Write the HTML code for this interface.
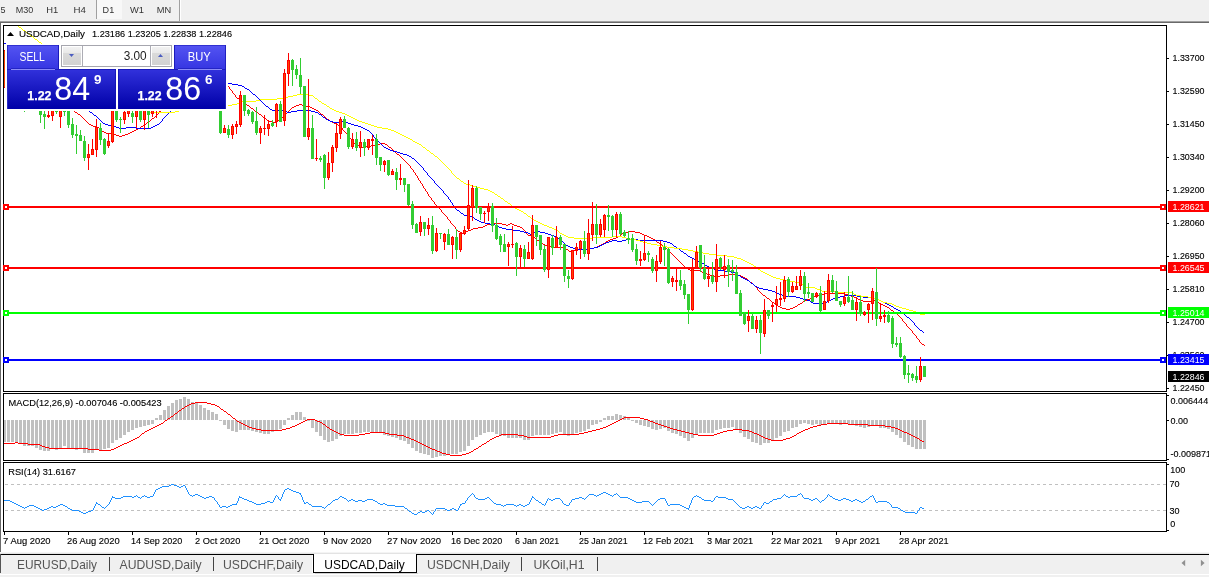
<!DOCTYPE html><html><head><meta charset="utf-8"><title>USDCAD,Daily</title>
<style>html,body{margin:0;padding:0;background:#fff;overflow:hidden}svg{display:block}text{font-family:"Liberation Sans",sans-serif}.t{stroke:#000;stroke-width:.12px}</style></head><body>
<svg width="1209" height="577" viewBox="0 0 1209 577">
<defs>
<linearGradient id="gbtn" x1="0" y1="0" x2="0" y2="1"><stop offset="0" stop-color="#5454f2"/><stop offset="1" stop-color="#3636e2"/></linearGradient>
<linearGradient id="gpan" x1="0" y1="0" x2="0" y2="1"><stop offset="0" stop-color="#3232dc"/><stop offset="0.75" stop-color="#0c0cb4"/><stop offset="1" stop-color="#0000a8"/></linearGradient>
<linearGradient id="gsp" x1="0" y1="0" x2="0" y2="1"><stop offset="0" stop-color="#f2f2f2"/><stop offset="0.36" stop-color="#e8e8e8"/><stop offset="0.36" stop-color="#dadada"/><stop offset="1" stop-color="#d2d2d2"/></linearGradient>
<clipPath id="cm"><rect x="4" y="26" width="1162" height="365"/></clipPath>
<clipPath id="cd"><rect x="4" y="394" width="1162" height="66"/></clipPath>
<clipPath id="cr"><rect x="4" y="463" width="1162" height="68"/></clipPath>
</defs>
<rect width="1209" height="577" fill="#fff"/>
<rect x="0" y="0" width="1209" height="21" fill="#f0f0f0"/>
<rect x="0" y="21" width="1209" height="1" fill="#a0a0a0"/><rect x="0" y="22" width="1209" height="1" fill="#696969"/>
<rect x="97" y="0" width="25" height="19" fill="#f8f8f8"/>
<rect x="96" y="0" width="1" height="19" fill="#a0a0a0"/><rect x="179" y="0" width="1" height="21" fill="#a0a0a0"/><rect x="180" y="0" width="1" height="21" fill="#fff"/>
<text x="0.5" y="13" font-size="9.6" fill="#333" textLength="5" lengthAdjust="spacingAndGlyphs">5</text>
<text x="15.7" y="13" font-size="9.6" fill="#333" textLength="17.5" lengthAdjust="spacingAndGlyphs">M30</text>
<text x="46.3" y="13" font-size="9.6" fill="#333" textLength="12" lengthAdjust="spacingAndGlyphs">H1</text>
<text x="73.6" y="13" font-size="9.6" fill="#333" textLength="12.4" lengthAdjust="spacingAndGlyphs">H4</text>
<text x="102.6" y="13" font-size="9.6" fill="#333" textLength="11.6" lengthAdjust="spacingAndGlyphs">D1</text>
<text x="130" y="13" font-size="9.6" fill="#333" textLength="14" lengthAdjust="spacingAndGlyphs">W1</text>
<text x="156.8" y="13" font-size="9.6" fill="#333" textLength="14.4" lengthAdjust="spacingAndGlyphs">MN</text>
<rect x="0" y="23" width="1" height="530" fill="#696969"/>
<g shape-rendering="crispEdges">
<g clip-path="url(#cm)">
<path d="M20 60.5h1M21 61.5h1M22 62.5h1M23 63.5h1M23 64.5h1M24 65.5h1M25 66.5h1M26 67.5h1M27 68.5h1M28 69.5h1M29 70.5h1M29 71.5h1M30 72.5h1M31 73.5h1M32 74.5h1M33 75.5h1M34 76.5h1M35 77.5h1M35 78.5h1M36 79.5h1M37 80.5h1M38 81.5h1M39 82.5h1M40 83.5h1M41 84.5h1M41 85.5h1M200 85.5h14M42 86.5h1M198 86.5h2M214 86.5h15M43 87.5h1M196 87.5h2M229 87.5h1M44 88.5h1M195 88.5h1M229 88.5h1M45 89.5h1M193 89.5h2M230 89.5h1M46 90.5h1M191 90.5h2M231 90.5h1M47 91.5h1M190 91.5h1M232 91.5h1M47 92.5h1M188 92.5h2M232 92.5h1M48 93.5h1M186 93.5h2M233 93.5h1M49 94.5h1M185 94.5h1M234 94.5h1M50 95.5h1M183 95.5h2M235 95.5h1M51 96.5h2M181 96.5h2M235 96.5h1M53 97.5h1M179 97.5h2M236 97.5h1M54 98.5h2M178 98.5h1M237 98.5h2M56 99.5h1M176 99.5h2M239 99.5h2M57 100.5h2M174 100.5h2M241 100.5h1M59 101.5h1M173 101.5h1M242 101.5h1M60 102.5h2M171 102.5h2M243 102.5h2M62 103.5h1M169 103.5h2M245 103.5h1M63 104.5h2M168 104.5h1M246 104.5h1M299 104.5h3M65 105.5h1M166 105.5h2M247 105.5h2M296 105.5h3M302 105.5h3M66 106.5h2M164 106.5h2M249 106.5h1M294 106.5h2M305 106.5h5M68 107.5h1M163 107.5h1M250 107.5h1M292 107.5h2M310 107.5h2M69 108.5h2M162 108.5h1M251 108.5h2M291 108.5h1M312 108.5h2M71 109.5h1M161 109.5h1M253 109.5h1M290 109.5h1M314 109.5h2M72 110.5h2M160 110.5h1M254 110.5h1M289 110.5h1M316 110.5h2M74 111.5h1M159 111.5h1M255 111.5h2M288 111.5h1M318 111.5h1M75 112.5h2M158 112.5h1M257 112.5h1M287 112.5h1M319 112.5h1M77 113.5h1M158 113.5h1M258 113.5h1M286 113.5h1M320 113.5h1M78 114.5h2M157 114.5h1M259 114.5h2M285 114.5h1M321 114.5h2M80 115.5h1M156 115.5h1M261 115.5h1M284 115.5h1M323 115.5h1M81 116.5h1M155 116.5h1M262 116.5h1M283 116.5h1M324 116.5h1M82 117.5h1M154 117.5h1M263 117.5h2M282 117.5h1M325 117.5h1M83 118.5h1M152 118.5h2M265 118.5h1M281 118.5h1M326 118.5h1M84 119.5h1M151 119.5h1M266 119.5h1M280 119.5h1M327 119.5h2M85 120.5h1M150 120.5h1M267 120.5h2M278 120.5h2M329 120.5h1M86 121.5h1M149 121.5h1M269 121.5h3M276 121.5h2M330 121.5h2M87 122.5h1M147 122.5h2M272 122.5h4M332 122.5h2M88 123.5h1M146 123.5h1M334 123.5h2M89 124.5h2M145 124.5h1M336 124.5h2M91 125.5h2M143 125.5h2M338 125.5h2M93 126.5h3M141 126.5h2M340 126.5h1M96 127.5h3M140 127.5h1M341 127.5h1M99 128.5h1M138 128.5h2M342 128.5h1M100 129.5h1M136 129.5h2M342 129.5h1M101 130.5h1M134 130.5h2M343 130.5h1M102 131.5h2M132 131.5h2M344 131.5h1M104 132.5h2M130 132.5h2M345 132.5h1M106 133.5h5M128 133.5h2M346 133.5h1M111 134.5h5M125 134.5h3M347 134.5h1M116 135.5h3M122 135.5h3M348 135.5h1M119 136.5h3M348 136.5h1M349 137.5h1M350 138.5h1M351 139.5h1M352 140.5h1M353 141.5h1M353 142.5h1M354 143.5h1M380 143.5h5M355 144.5h2M375 144.5h5M385 144.5h2M357 145.5h2M371 145.5h4M387 145.5h1M359 146.5h2M366 146.5h5M388 146.5h1M361 147.5h5M389 147.5h2M391 148.5h1M392 149.5h1M393 150.5h1M394 151.5h1M395 152.5h1M396 153.5h1M397 154.5h2M399 155.5h1M400 156.5h1M401 157.5h1M402 158.5h1M403 159.5h1M404 160.5h1M405 161.5h1M406 162.5h1M407 163.5h1M408 164.5h1M409 165.5h1M410 166.5h1M410 167.5h1M411 168.5h1M412 169.5h1M413 170.5h1M413 171.5h1M414 172.5h1M415 173.5h1M415 174.5h1M416 175.5h1M417 176.5h1M417 177.5h1M418 178.5h1M418 179.5h1M419 180.5h1M420 181.5h1M420 182.5h1M421 183.5h1M422 184.5h1M422 185.5h1M423 186.5h1M423 187.5h1M424 188.5h1M425 189.5h1M425 190.5h1M426 191.5h1M427 192.5h1M427 193.5h1M428 194.5h1M428 195.5h1M429 196.5h1M430 197.5h1M431 198.5h1M431 199.5h1M432 200.5h1M433 201.5h1M434 202.5h1M434 203.5h1M435 204.5h1M436 205.5h1M437 206.5h1M438 207.5h1M439 208.5h1M440 209.5h1M441 210.5h1M441 211.5h1M442 212.5h1M443 213.5h1M444 214.5h1M445 215.5h1M446 216.5h1M447 217.5h1M447 218.5h1M448 219.5h1M449 220.5h1M450 221.5h1M450 222.5h1M451 223.5h1M492 223.5h10M510 223.5h2M452 224.5h1M487 224.5h5M502 224.5h4M508 224.5h2M512 224.5h2M453 225.5h1M485 225.5h2M506 225.5h2M514 225.5h3M454 226.5h1M483 226.5h2M517 226.5h3M455 227.5h1M478 227.5h5M520 227.5h2M455 228.5h1M473 228.5h5M522 228.5h1M456 229.5h1M471 229.5h2M523 229.5h1M457 230.5h1M468 230.5h3M524 230.5h1M458 231.5h2M466 231.5h2M525 231.5h1M628 231.5h7M460 232.5h2M464 232.5h2M526 232.5h1M624 232.5h4M635 232.5h5M462 233.5h2M526 233.5h1M622 233.5h2M640 233.5h2M527 234.5h1M621 234.5h1M642 234.5h2M528 235.5h3M620 235.5h1M644 235.5h3M531 236.5h2M618 236.5h2M647 236.5h2M533 237.5h2M616 237.5h2M649 237.5h2M535 238.5h1M613 238.5h3M651 238.5h2M536 239.5h1M610 239.5h3M653 239.5h2M537 240.5h2M608 240.5h2M655 240.5h1M539 241.5h1M606 241.5h2M656 241.5h1M540 242.5h2M605 242.5h1M657 242.5h2M542 243.5h1M603 243.5h2M659 243.5h1M543 244.5h2M601 244.5h2M660 244.5h2M545 245.5h3M599 245.5h2M662 245.5h1M548 246.5h3M597 246.5h2M663 246.5h2M551 247.5h14M594 247.5h3M665 247.5h1M565 248.5h1M590 248.5h4M666 248.5h1M566 249.5h2M578 249.5h12M667 249.5h1M568 250.5h1M572 250.5h6M668 250.5h1M569 251.5h3M669 251.5h1M670 252.5h1M671 253.5h1M672 254.5h1M673 255.5h1M674 256.5h1M675 257.5h1M676 258.5h1M677 259.5h1M678 260.5h1M679 261.5h1M680 262.5h1M681 263.5h1M682 264.5h1M683 265.5h1M684 266.5h1M685 267.5h1M686 268.5h2M688 269.5h2M690 270.5h10M700 271.5h2M702 272.5h2M704 273.5h3M707 274.5h3M728 274.5h8M710 275.5h4M720 275.5h8M736 275.5h5M714 276.5h6M741 276.5h2M743 277.5h2M745 278.5h2M747 279.5h1M748 280.5h1M749 281.5h1M750 282.5h2M752 283.5h1M753 284.5h1M754 285.5h1M755 286.5h1M756 287.5h1M757 288.5h1M757 289.5h1M758 290.5h1M759 291.5h1M760 292.5h1M761 293.5h1M824 293.5h20M762 294.5h1M821 294.5h3M844 294.5h4M763 295.5h2M818 295.5h3M848 295.5h3M765 296.5h1M814 296.5h4M851 296.5h3M766 297.5h1M812 297.5h2M854 297.5h3M767 298.5h2M810 298.5h2M857 298.5h1M769 299.5h1M807 299.5h3M858 299.5h2M770 300.5h1M805 300.5h2M860 300.5h3M872 300.5h3M771 301.5h1M803 301.5h2M863 301.5h9M875 301.5h2M772 302.5h2M802 302.5h1M877 302.5h2M774 303.5h1M800 303.5h2M879 303.5h2M775 304.5h1M798 304.5h2M881 304.5h2M776 305.5h2M797 305.5h1M883 305.5h2M778 306.5h2M795 306.5h2M885 306.5h2M780 307.5h2M793 307.5h2M887 307.5h2M782 308.5h4M790 308.5h3M889 308.5h1M786 309.5h4M890 309.5h1M891 310.5h2M893 311.5h1M894 312.5h1M895 313.5h2M897 314.5h1M898 315.5h1M899 316.5h1M900 317.5h1M901 318.5h1M902 319.5h1M902 320.5h1M903 321.5h1M904 322.5h1M905 323.5h1M906 324.5h1M906 325.5h1M907 326.5h1M908 327.5h1M909 328.5h1M910 329.5h1M911 330.5h1M912 331.5h1M912 332.5h1M913 333.5h1M914 334.5h1M915 335.5h1M916 336.5h1M916 337.5h1M917 338.5h1M918 339.5h1M919 340.5h1M919 341.5h1M920 342.5h1M921 343.5h1M922 344.5h2M924 345.5h1" fill="none" stroke="#ff0000" stroke-width="1"/>
<path d="M4 43.5h2M6 44.5h1M7 45.5h2M9 46.5h1M10 47.5h1M11 48.5h2M13 49.5h1M14 50.5h1M15 51.5h2M17 52.5h1M18 53.5h1M19 54.5h1M20 55.5h2M22 56.5h1M23 57.5h1M24 58.5h2M26 59.5h1M27 60.5h1M28 61.5h1M29 62.5h2M31 63.5h1M32 64.5h1M33 65.5h2M35 66.5h1M36 67.5h1M37 68.5h2M39 69.5h1M40 70.5h1M41 71.5h1M42 72.5h1M43 73.5h2M45 74.5h1M46 75.5h1M47 76.5h1M48 77.5h1M49 78.5h2M51 79.5h1M52 80.5h1M53 81.5h1M54 82.5h1M55 83.5h2M226 83.5h6M57 84.5h1M220 84.5h6M232 84.5h6M58 85.5h1M214 85.5h6M238 85.5h4M59 86.5h1M209 86.5h5M242 86.5h2M60 87.5h1M203 87.5h6M244 87.5h1M61 88.5h2M200 88.5h3M245 88.5h2M63 89.5h1M198 89.5h2M247 89.5h2M64 90.5h1M197 90.5h1M249 90.5h1M65 91.5h1M195 91.5h2M250 91.5h1M66 92.5h1M194 92.5h1M251 92.5h1M67 93.5h2M192 93.5h2M252 93.5h1M69 94.5h1M191 94.5h1M253 94.5h2M70 95.5h1M189 95.5h2M255 95.5h1M71 96.5h1M188 96.5h1M256 96.5h1M72 97.5h1M187 97.5h1M257 97.5h1M73 98.5h2M185 98.5h2M258 98.5h1M75 99.5h1M184 99.5h1M259 99.5h1M76 100.5h1M182 100.5h2M260 100.5h1M77 101.5h1M181 101.5h1M261 101.5h1M78 102.5h1M179 102.5h2M262 102.5h1M79 103.5h2M178 103.5h1M263 103.5h1M81 104.5h1M176 104.5h2M264 104.5h1M82 105.5h1M175 105.5h1M265 105.5h1M83 106.5h1M174 106.5h1M266 106.5h2M84 107.5h1M173 107.5h1M268 107.5h1M85 108.5h2M173 108.5h1M269 108.5h1M87 109.5h1M172 109.5h1M270 109.5h2M88 110.5h1M171 110.5h1M272 110.5h12M297 110.5h14M89 111.5h1M170 111.5h1M284 111.5h3M291 111.5h6M311 111.5h4M90 112.5h2M169 112.5h1M287 112.5h4M315 112.5h3M92 113.5h1M168 113.5h1M318 113.5h1M93 114.5h1M167 114.5h1M319 114.5h2M94 115.5h2M166 115.5h1M321 115.5h1M96 116.5h1M165 116.5h1M322 116.5h1M97 117.5h1M164 117.5h1M323 117.5h2M98 118.5h1M163 118.5h1M325 118.5h1M99 119.5h1M162 119.5h1M326 119.5h2M100 120.5h1M162 120.5h1M328 120.5h2M101 121.5h1M161 121.5h1M330 121.5h3M339 121.5h6M102 122.5h1M160 122.5h1M333 122.5h6M345 122.5h3M103 123.5h2M159 123.5h1M348 123.5h3M105 124.5h3M157 124.5h2M351 124.5h3M108 125.5h4M155 125.5h2M354 125.5h4M112 126.5h4M153 126.5h2M358 126.5h3M116 127.5h3M126 127.5h10M151 127.5h2M361 127.5h2M119 128.5h7M136 128.5h15M363 128.5h2M365 129.5h2M367 130.5h2M369 131.5h1M370 132.5h1M371 133.5h1M372 134.5h1M373 135.5h1M373 136.5h1M374 137.5h1M375 138.5h1M376 139.5h1M377 140.5h1M378 141.5h1M379 142.5h1M380 143.5h1M381 144.5h1M382 145.5h1M383 146.5h1M384 147.5h2M386 148.5h2M388 149.5h2M390 150.5h3M393 151.5h4M397 152.5h3M400 153.5h3M403 154.5h4M407 155.5h2M409 156.5h2M411 157.5h1M412 158.5h2M414 159.5h1M415 160.5h1M416 161.5h1M417 162.5h1M418 163.5h1M419 164.5h1M420 165.5h1M421 166.5h1M422 167.5h1M423 168.5h1M423 169.5h1M424 170.5h1M425 171.5h1M426 172.5h1M427 173.5h1M427 174.5h1M428 175.5h1M429 176.5h1M430 177.5h1M431 178.5h1M432 179.5h1M433 180.5h1M434 181.5h1M434 182.5h1M435 183.5h1M436 184.5h1M437 185.5h1M438 186.5h1M439 187.5h1M440 188.5h1M441 189.5h1M442 190.5h1M443 191.5h1M443 192.5h1M444 193.5h1M445 194.5h1M446 195.5h1M447 196.5h1M448 197.5h1M448 198.5h1M449 199.5h1M450 200.5h1M450 201.5h1M451 202.5h1M452 203.5h1M452 204.5h1M453 205.5h1M454 206.5h1M454 207.5h1M455 208.5h1M456 209.5h1M457 210.5h2M459 211.5h1M460 212.5h1M461 213.5h2M463 214.5h1M464 215.5h4M468 216.5h4M472 217.5h2M474 218.5h1M475 219.5h2M477 220.5h2M479 221.5h2M481 222.5h4M485 223.5h5M490 224.5h5M495 225.5h2M497 226.5h2M499 227.5h3M502 228.5h4M506 229.5h7M513 230.5h7M520 231.5h4M536 231.5h4M524 232.5h4M534 232.5h2M540 232.5h5M528 233.5h2M532 233.5h2M545 233.5h3M530 234.5h2M548 234.5h3M551 235.5h3M554 236.5h2M556 237.5h2M558 238.5h2M560 239.5h1M626 239.5h12M561 240.5h1M612 240.5h5M622 240.5h4M638 240.5h25M562 241.5h1M609 241.5h3M617 241.5h5M663 241.5h4M563 242.5h1M606 242.5h3M667 242.5h3M564 243.5h1M604 243.5h2M670 243.5h2M565 244.5h1M602 244.5h2M672 244.5h1M566 245.5h2M600 245.5h2M673 245.5h1M568 246.5h2M598 246.5h2M674 246.5h2M570 247.5h3M594 247.5h4M676 247.5h1M573 248.5h2M587 248.5h7M677 248.5h2M575 249.5h12M679 249.5h1M680 250.5h1M681 251.5h2M683 252.5h1M684 253.5h2M686 254.5h1M687 255.5h1M688 256.5h2M690 257.5h2M692 258.5h2M694 259.5h2M696 260.5h2M698 261.5h2M700 262.5h2M702 263.5h2M704 264.5h1M705 265.5h2M707 266.5h2M709 267.5h2M711 268.5h3M714 269.5h4M718 270.5h6M724 271.5h7M731 272.5h4M735 273.5h2M737 274.5h1M738 275.5h2M740 276.5h1M741 277.5h2M743 278.5h2M745 279.5h2M747 280.5h2M749 281.5h1M750 282.5h1M751 283.5h2M753 284.5h1M754 285.5h1M755 286.5h2M757 287.5h2M759 288.5h4M763 289.5h5M768 290.5h4M772 291.5h3M775 292.5h2M777 293.5h2M779 294.5h3M782 295.5h4M844 295.5h13M786 296.5h10M840 296.5h4M857 296.5h6M796 297.5h4M836 297.5h4M863 297.5h8M800 298.5h3M833 298.5h3M871 298.5h4M803 299.5h4M831 299.5h2M875 299.5h4M807 300.5h3M829 300.5h2M879 300.5h2M810 301.5h1M827 301.5h2M881 301.5h2M811 302.5h2M824 302.5h3M883 302.5h2M813 303.5h11M885 303.5h2M887 304.5h2M889 305.5h2M891 306.5h2M893 307.5h1M894 308.5h2M896 309.5h2M898 310.5h2M900 311.5h1M901 312.5h1M902 313.5h2M904 314.5h1M905 315.5h1M906 316.5h1M907 317.5h2M909 318.5h1M910 319.5h1M911 320.5h1M912 321.5h1M913 322.5h1M914 323.5h1M914 324.5h1M915 325.5h1M916 326.5h1M917 327.5h1M918 328.5h1M919 329.5h1M920 330.5h2M922 331.5h1M923 332.5h1" fill="none" stroke="#0000ff" stroke-width="1"/>
<path d="M18 26.5h1M19 27.5h2M21 28.5h1M22 29.5h1M23 30.5h2M25 31.5h1M26 32.5h1M27 33.5h2M29 34.5h1M30 35.5h1M31 36.5h2M33 37.5h1M34 38.5h1M35 39.5h2M37 40.5h1M38 41.5h1M39 42.5h2M41 43.5h1M42 44.5h2M44 45.5h1M45 46.5h2M47 47.5h2M49 48.5h1M50 49.5h2M52 50.5h1M53 51.5h2M55 52.5h2M57 53.5h1M58 54.5h2M60 55.5h1M61 56.5h2M63 57.5h1M64 58.5h2M66 59.5h2M68 60.5h1M69 61.5h2M71 62.5h1M72 63.5h2M74 64.5h2M76 65.5h1M77 66.5h2M79 67.5h1M80 68.5h2M82 69.5h2M84 70.5h1M85 71.5h2M87 72.5h1M88 73.5h2M90 74.5h2M92 75.5h1M93 76.5h2M95 77.5h1M96 78.5h2M98 79.5h2M100 80.5h1M101 81.5h2M103 82.5h1M104 83.5h2M106 84.5h2M108 85.5h1M109 86.5h2M111 87.5h1M112 88.5h2M114 89.5h1M115 90.5h2M117 91.5h2M119 92.5h1M120 93.5h2M122 94.5h1M297 94.5h11M123 95.5h2M293 95.5h4M308 95.5h5M125 96.5h2M288 96.5h5M313 96.5h1M127 97.5h1M284 97.5h4M314 97.5h1M128 98.5h2M277 98.5h7M315 98.5h2M130 99.5h1M260 99.5h17M317 99.5h1M131 100.5h2M256 100.5h4M318 100.5h1M133 101.5h1M241 101.5h15M319 101.5h2M134 102.5h2M239 102.5h2M321 102.5h1M136 103.5h1M237 103.5h2M322 103.5h2M137 104.5h2M232 104.5h5M324 104.5h2M139 105.5h1M225 105.5h7M326 105.5h1M140 106.5h2M218 106.5h7M327 106.5h2M142 107.5h1M211 107.5h7M329 107.5h1M143 108.5h2M204 108.5h7M330 108.5h2M145 109.5h1M190 109.5h14M332 109.5h2M146 110.5h2M179 110.5h11M334 110.5h2M148 111.5h1M175 111.5h4M336 111.5h3M149 112.5h26M339 112.5h3M342 113.5h3M345 114.5h2M347 115.5h2M349 116.5h2M351 117.5h2M353 118.5h2M355 119.5h2M357 120.5h2M359 121.5h3M362 122.5h3M365 123.5h3M368 124.5h3M371 125.5h3M374 126.5h3M377 127.5h5M382 128.5h6M388 129.5h3M391 130.5h3M394 131.5h2M396 132.5h2M398 133.5h2M400 134.5h2M402 135.5h2M404 136.5h2M406 137.5h2M408 138.5h2M410 139.5h2M412 140.5h1M413 141.5h2M415 142.5h2M417 143.5h2M419 144.5h2M421 145.5h1M422 146.5h1M423 147.5h2M425 148.5h1M426 149.5h1M427 150.5h2M429 151.5h1M430 152.5h1M431 153.5h2M433 154.5h1M434 155.5h1M435 156.5h2M437 157.5h1M438 158.5h1M439 159.5h1M440 160.5h1M441 161.5h1M442 162.5h1M443 163.5h1M444 164.5h1M445 165.5h1M446 166.5h1M447 167.5h1M448 168.5h1M449 169.5h1M450 170.5h1M451 171.5h1M451 172.5h1M452 173.5h1M453 174.5h1M454 175.5h1M455 176.5h1M456 177.5h1M457 178.5h2M459 179.5h1M460 180.5h1M461 181.5h2M463 182.5h1M464 183.5h2M466 184.5h4M470 185.5h3M473 186.5h4M477 187.5h3M480 188.5h4M484 189.5h4M488 190.5h2M490 191.5h2M492 192.5h2M494 193.5h1M495 194.5h2M497 195.5h1M498 196.5h2M500 197.5h1M501 198.5h2M503 199.5h1M504 200.5h1M505 201.5h2M507 202.5h1M508 203.5h2M510 204.5h1M511 205.5h1M512 206.5h2M514 207.5h1M515 208.5h2M517 209.5h2M519 210.5h2M521 211.5h2M523 212.5h1M524 213.5h2M526 214.5h1M527 215.5h1M528 216.5h2M530 217.5h1M531 218.5h1M532 219.5h2M534 220.5h2M536 221.5h2M538 222.5h2M540 223.5h2M542 224.5h2M544 225.5h3M547 226.5h2M549 227.5h3M552 228.5h2M554 229.5h2M556 230.5h2M558 231.5h1M559 232.5h1M560 233.5h2M562 234.5h2M564 235.5h2M566 236.5h2M612 236.5h10M568 237.5h6M592 237.5h20M622 237.5h4M574 238.5h18M626 238.5h4M630 239.5h6M636 240.5h4M640 241.5h3M643 242.5h4M647 243.5h4M651 244.5h6M657 245.5h5M662 246.5h5M667 247.5h7M674 248.5h8M682 249.5h6M688 250.5h5M693 251.5h5M698 252.5h5M703 253.5h6M709 254.5h8M717 255.5h10M727 256.5h7M734 257.5h3M737 258.5h4M741 259.5h2M743 260.5h2M745 261.5h2M747 262.5h2M749 263.5h2M751 264.5h2M753 265.5h1M754 266.5h2M756 267.5h1M757 268.5h1M758 269.5h2M760 270.5h1M761 271.5h2M763 272.5h2M765 273.5h2M767 274.5h2M769 275.5h2M771 276.5h2M773 277.5h3M776 278.5h4M780 279.5h5M785 280.5h5M790 281.5h5M795 282.5h4M799 283.5h3M802 284.5h1M803 285.5h2M805 286.5h1M806 287.5h9M815 288.5h2M817 289.5h3M820 290.5h2M822 291.5h14M836 292.5h16M852 293.5h2M854 294.5h2M856 295.5h5M861 296.5h7M868 297.5h4M872 298.5h4M876 299.5h3M879 300.5h2M881 301.5h2M883 302.5h4M887 303.5h5M892 304.5h2M894 305.5h2M896 306.5h3M899 307.5h3M902 308.5h4M906 309.5h3M909 310.5h4M913 311.5h3M916 312.5h2M918 313.5h2M920 314.5h5" fill="none" stroke="#ffff00" stroke-width="1"/>
<rect x="4" y="206" width="1162" height="2" fill="#ff0000"/>
<rect x="4" y="267" width="1162" height="2" fill="#ff0000"/>
<rect x="4" y="312" width="1162" height="2" fill="#00ff00"/>
<rect x="4" y="359" width="1162" height="2" fill="#0000ff"/>
<rect x="4" y="50" width="1" height="38" fill="#ff0000"/>
<rect x="3" y="50" width="3" height="38" fill="#ff0000"/>
<rect x="4" y="51" width="1" height="36" fill="#ff4500"/>
<rect x="40" y="100" width="1" height="23" fill="#32cd32"/>
<rect x="39" y="100" width="3" height="15" fill="#32cd32"/>
<rect x="44" y="100" width="1" height="29" fill="#32cd32"/>
<rect x="43" y="114" width="3" height="3" fill="#32cd32"/>
<rect x="48" y="100" width="1" height="18" fill="#ff0000"/>
<rect x="47" y="115" width="3" height="2" fill="#ff0000"/>
<rect x="52" y="100" width="1" height="21" fill="#ff0000"/>
<rect x="51" y="100" width="3" height="16" fill="#ff0000"/>
<rect x="52" y="101" width="1" height="14" fill="#ff4500"/>
<rect x="56" y="100" width="1" height="14" fill="#32cd32"/>
<rect x="55" y="111" width="3" height="1" fill="#32cd32"/>
<rect x="60" y="100" width="1" height="28" fill="#ff0000"/>
<rect x="59" y="100" width="3" height="17" fill="#ff0000"/>
<rect x="60" y="101" width="1" height="15" fill="#ff4500"/>
<rect x="64" y="100" width="1" height="16" fill="#32cd32"/>
<rect x="63" y="111" width="3" height="1" fill="#32cd32"/>
<rect x="68" y="100" width="1" height="28" fill="#32cd32"/>
<rect x="67" y="100" width="3" height="25" fill="#32cd32"/>
<rect x="72" y="118" width="1" height="20" fill="#32cd32"/>
<rect x="71" y="124" width="3" height="11" fill="#32cd32"/>
<rect x="76" y="125" width="1" height="29" fill="#32cd32"/>
<rect x="75" y="134" width="3" height="2" fill="#32cd32"/>
<rect x="80" y="130" width="1" height="11" fill="#32cd32"/>
<rect x="79" y="135" width="3" height="6" fill="#32cd32"/>
<rect x="84" y="136" width="1" height="25" fill="#32cd32"/>
<rect x="83" y="141" width="3" height="17" fill="#32cd32"/>
<rect x="88" y="144" width="1" height="26" fill="#ff0000"/>
<rect x="87" y="154" width="3" height="4" fill="#ff0000"/>
<rect x="88" y="155" width="1" height="2" fill="#ff4500"/>
<rect x="92" y="139" width="1" height="16" fill="#ff0000"/>
<rect x="91" y="149" width="3" height="6" fill="#ff0000"/>
<rect x="92" y="150" width="1" height="4" fill="#ff4500"/>
<rect x="96" y="119" width="1" height="38" fill="#ff0000"/>
<rect x="95" y="127" width="3" height="23" fill="#ff0000"/>
<rect x="96" y="128" width="1" height="21" fill="#ff4500"/>
<rect x="100" y="123" width="1" height="22" fill="#32cd32"/>
<rect x="99" y="128" width="3" height="12" fill="#32cd32"/>
<rect x="104" y="138" width="1" height="17" fill="#32cd32"/>
<rect x="103" y="139" width="3" height="15" fill="#32cd32"/>
<rect x="108" y="133" width="1" height="15" fill="#ff0000"/>
<rect x="107" y="141" width="3" height="5" fill="#ff0000"/>
<rect x="108" y="142" width="1" height="3" fill="#ff4500"/>
<rect x="112" y="100" width="1" height="43" fill="#ff0000"/>
<rect x="111" y="100" width="3" height="42" fill="#ff0000"/>
<rect x="112" y="101" width="1" height="40" fill="#ff4500"/>
<rect x="116" y="100" width="1" height="22" fill="#32cd32"/>
<rect x="115" y="100" width="3" height="20" fill="#32cd32"/>
<rect x="120" y="117" width="1" height="16" fill="#32cd32"/>
<rect x="119" y="119" width="3" height="1" fill="#32cd32"/>
<rect x="124" y="100" width="1" height="24" fill="#ff0000"/>
<rect x="123" y="112" width="3" height="8" fill="#ff0000"/>
<rect x="124" y="113" width="1" height="6" fill="#ff4500"/>
<rect x="128" y="100" width="1" height="17" fill="#ff0000"/>
<rect x="127" y="100" width="3" height="14" fill="#ff0000"/>
<rect x="128" y="101" width="1" height="12" fill="#ff4500"/>
<rect x="132" y="100" width="1" height="23" fill="#32cd32"/>
<rect x="131" y="113" width="3" height="4" fill="#32cd32"/>
<rect x="136" y="100" width="1" height="28" fill="#ff0000"/>
<rect x="135" y="100" width="3" height="17" fill="#ff0000"/>
<rect x="136" y="101" width="1" height="15" fill="#ff4500"/>
<rect x="140" y="100" width="1" height="22" fill="#32cd32"/>
<rect x="139" y="100" width="3" height="20" fill="#32cd32"/>
<rect x="144" y="100" width="1" height="30" fill="#ff0000"/>
<rect x="143" y="100" width="3" height="20" fill="#ff0000"/>
<rect x="144" y="101" width="1" height="18" fill="#ff4500"/>
<rect x="148" y="100" width="1" height="28" fill="#32cd32"/>
<rect x="147" y="100" width="3" height="15" fill="#32cd32"/>
<rect x="152" y="100" width="1" height="17" fill="#ff0000"/>
<rect x="151" y="100" width="3" height="14" fill="#ff0000"/>
<rect x="152" y="101" width="1" height="12" fill="#ff4500"/>
<rect x="156" y="100" width="1" height="18" fill="#ff0000"/>
<rect x="155" y="100" width="3" height="10" fill="#ff0000"/>
<rect x="156" y="101" width="1" height="8" fill="#ff4500"/>
<rect x="160" y="100" width="1" height="12" fill="#ff0000"/>
<rect x="159" y="100" width="3" height="10" fill="#ff0000"/>
<rect x="160" y="101" width="1" height="8" fill="#ff4500"/>
<rect x="220" y="100" width="1" height="34" fill="#32cd32"/>
<rect x="219" y="100" width="3" height="33" fill="#32cd32"/>
<rect x="224" y="125" width="1" height="8" fill="#ff0000"/>
<rect x="223" y="128" width="3" height="5" fill="#ff0000"/>
<rect x="224" y="129" width="1" height="3" fill="#ff4500"/>
<rect x="228" y="125" width="1" height="13" fill="#32cd32"/>
<rect x="227" y="129" width="3" height="6" fill="#32cd32"/>
<rect x="232" y="124" width="1" height="15" fill="#ff0000"/>
<rect x="231" y="126" width="3" height="9" fill="#ff0000"/>
<rect x="232" y="127" width="1" height="7" fill="#ff4500"/>
<rect x="236" y="121" width="1" height="13" fill="#ff0000"/>
<rect x="235" y="124" width="3" height="3" fill="#ff0000"/>
<rect x="236" y="125" width="1" height="1" fill="#ff4500"/>
<rect x="240" y="91" width="1" height="36" fill="#ff0000"/>
<rect x="239" y="95" width="3" height="30" fill="#ff0000"/>
<rect x="240" y="96" width="1" height="28" fill="#ff4500"/>
<rect x="244" y="95" width="1" height="21" fill="#32cd32"/>
<rect x="243" y="95" width="3" height="16" fill="#32cd32"/>
<rect x="248" y="109" width="1" height="7" fill="#32cd32"/>
<rect x="247" y="110" width="3" height="4" fill="#32cd32"/>
<rect x="252" y="111" width="1" height="13" fill="#32cd32"/>
<rect x="251" y="112" width="3" height="10" fill="#32cd32"/>
<rect x="256" y="107" width="1" height="28" fill="#32cd32"/>
<rect x="255" y="121" width="3" height="12" fill="#32cd32"/>
<rect x="260" y="126" width="1" height="18" fill="#ff0000"/>
<rect x="259" y="128" width="3" height="5" fill="#ff0000"/>
<rect x="260" y="129" width="1" height="3" fill="#ff4500"/>
<rect x="264" y="115" width="1" height="20" fill="#ff0000"/>
<rect x="263" y="128" width="3" height="1" fill="#ff0000"/>
<rect x="268" y="120" width="1" height="16" fill="#ff0000"/>
<rect x="267" y="124" width="3" height="5" fill="#ff0000"/>
<rect x="268" y="125" width="1" height="3" fill="#ff4500"/>
<rect x="272" y="120" width="1" height="7" fill="#32cd32"/>
<rect x="271" y="123" width="3" height="3" fill="#32cd32"/>
<rect x="276" y="103" width="1" height="24" fill="#ff0000"/>
<rect x="275" y="104" width="3" height="18" fill="#ff0000"/>
<rect x="276" y="105" width="1" height="16" fill="#ff4500"/>
<rect x="280" y="101" width="1" height="21" fill="#32cd32"/>
<rect x="279" y="104" width="3" height="18" fill="#32cd32"/>
<rect x="284" y="69" width="1" height="57" fill="#ff0000"/>
<rect x="283" y="73" width="3" height="48" fill="#ff0000"/>
<rect x="284" y="74" width="1" height="46" fill="#ff4500"/>
<rect x="288" y="53" width="1" height="33" fill="#ff0000"/>
<rect x="287" y="60" width="3" height="14" fill="#ff0000"/>
<rect x="288" y="61" width="1" height="12" fill="#ff4500"/>
<rect x="292" y="59" width="1" height="27" fill="#32cd32"/>
<rect x="291" y="60" width="3" height="10" fill="#32cd32"/>
<rect x="296" y="65" width="1" height="14" fill="#32cd32"/>
<rect x="295" y="69" width="3" height="6" fill="#32cd32"/>
<rect x="300" y="58" width="1" height="36" fill="#32cd32"/>
<rect x="299" y="75" width="3" height="12" fill="#32cd32"/>
<rect x="304" y="86" width="1" height="51" fill="#32cd32"/>
<rect x="303" y="86" width="3" height="51" fill="#32cd32"/>
<rect x="308" y="79" width="1" height="61" fill="#ff0000"/>
<rect x="307" y="128" width="3" height="9" fill="#ff0000"/>
<rect x="308" y="129" width="1" height="7" fill="#ff4500"/>
<rect x="312" y="115" width="1" height="44" fill="#32cd32"/>
<rect x="311" y="128" width="3" height="31" fill="#32cd32"/>
<rect x="316" y="139" width="1" height="22" fill="#ff0000"/>
<rect x="315" y="158" width="3" height="1" fill="#ff0000"/>
<rect x="320" y="156" width="1" height="6" fill="#32cd32"/>
<rect x="319" y="158" width="3" height="2" fill="#32cd32"/>
<rect x="324" y="154" width="1" height="35" fill="#32cd32"/>
<rect x="323" y="155" width="3" height="23" fill="#32cd32"/>
<rect x="328" y="152" width="1" height="28" fill="#ff0000"/>
<rect x="327" y="163" width="3" height="15" fill="#ff0000"/>
<rect x="328" y="164" width="1" height="13" fill="#ff4500"/>
<rect x="332" y="145" width="1" height="27" fill="#ff0000"/>
<rect x="331" y="147" width="3" height="16" fill="#ff0000"/>
<rect x="332" y="148" width="1" height="14" fill="#ff4500"/>
<rect x="336" y="123" width="1" height="29" fill="#ff0000"/>
<rect x="335" y="133" width="3" height="15" fill="#ff0000"/>
<rect x="336" y="134" width="1" height="13" fill="#ff4500"/>
<rect x="340" y="117" width="1" height="22" fill="#ff0000"/>
<rect x="339" y="119" width="3" height="15" fill="#ff0000"/>
<rect x="340" y="120" width="1" height="13" fill="#ff4500"/>
<rect x="344" y="116" width="1" height="12" fill="#32cd32"/>
<rect x="343" y="119" width="3" height="9" fill="#32cd32"/>
<rect x="348" y="127" width="1" height="22" fill="#32cd32"/>
<rect x="347" y="128" width="3" height="19" fill="#32cd32"/>
<rect x="352" y="133" width="1" height="16" fill="#ff0000"/>
<rect x="351" y="139" width="3" height="8" fill="#ff0000"/>
<rect x="352" y="140" width="1" height="6" fill="#ff4500"/>
<rect x="356" y="132" width="1" height="19" fill="#32cd32"/>
<rect x="355" y="139" width="3" height="9" fill="#32cd32"/>
<rect x="360" y="131" width="1" height="26" fill="#ff0000"/>
<rect x="359" y="142" width="3" height="6" fill="#ff0000"/>
<rect x="360" y="143" width="1" height="4" fill="#ff4500"/>
<rect x="364" y="139" width="1" height="17" fill="#32cd32"/>
<rect x="363" y="142" width="3" height="6" fill="#32cd32"/>
<rect x="368" y="139" width="1" height="11" fill="#ff0000"/>
<rect x="367" y="139" width="3" height="9" fill="#ff0000"/>
<rect x="368" y="140" width="1" height="7" fill="#ff4500"/>
<rect x="372" y="135" width="1" height="20" fill="#ff0000"/>
<rect x="371" y="139" width="3" height="2" fill="#ff0000"/>
<rect x="376" y="134" width="1" height="31" fill="#32cd32"/>
<rect x="375" y="139" width="3" height="19" fill="#32cd32"/>
<rect x="380" y="157" width="1" height="14" fill="#32cd32"/>
<rect x="379" y="157" width="3" height="8" fill="#32cd32"/>
<rect x="384" y="160" width="1" height="12" fill="#ff0000"/>
<rect x="383" y="161" width="3" height="4" fill="#ff0000"/>
<rect x="384" y="162" width="1" height="2" fill="#ff4500"/>
<rect x="388" y="160" width="1" height="16" fill="#32cd32"/>
<rect x="387" y="160" width="3" height="15" fill="#32cd32"/>
<rect x="392" y="169" width="1" height="6" fill="#ff0000"/>
<rect x="391" y="171" width="3" height="4" fill="#ff0000"/>
<rect x="392" y="172" width="1" height="2" fill="#ff4500"/>
<rect x="396" y="168" width="1" height="22" fill="#32cd32"/>
<rect x="395" y="172" width="3" height="8" fill="#32cd32"/>
<rect x="400" y="164" width="1" height="21" fill="#ff0000"/>
<rect x="399" y="178" width="3" height="2" fill="#ff0000"/>
<rect x="404" y="178" width="1" height="14" fill="#32cd32"/>
<rect x="403" y="178" width="3" height="7" fill="#32cd32"/>
<rect x="408" y="184" width="1" height="22" fill="#32cd32"/>
<rect x="407" y="184" width="3" height="21" fill="#32cd32"/>
<rect x="412" y="201" width="1" height="28" fill="#32cd32"/>
<rect x="411" y="204" width="3" height="21" fill="#32cd32"/>
<rect x="416" y="223" width="1" height="10" fill="#32cd32"/>
<rect x="415" y="224" width="3" height="9" fill="#32cd32"/>
<rect x="420" y="216" width="1" height="20" fill="#ff0000"/>
<rect x="419" y="222" width="3" height="10" fill="#ff0000"/>
<rect x="420" y="223" width="1" height="8" fill="#ff4500"/>
<rect x="424" y="222" width="1" height="14" fill="#32cd32"/>
<rect x="423" y="222" width="3" height="7" fill="#32cd32"/>
<rect x="428" y="218" width="1" height="17" fill="#ff0000"/>
<rect x="427" y="225" width="3" height="4" fill="#ff0000"/>
<rect x="428" y="226" width="1" height="2" fill="#ff4500"/>
<rect x="432" y="216" width="1" height="38" fill="#32cd32"/>
<rect x="431" y="225" width="3" height="26" fill="#32cd32"/>
<rect x="436" y="228" width="1" height="24" fill="#ff0000"/>
<rect x="435" y="233" width="3" height="18" fill="#ff0000"/>
<rect x="436" y="234" width="1" height="16" fill="#ff4500"/>
<rect x="440" y="233" width="1" height="6" fill="#32cd32"/>
<rect x="439" y="233" width="3" height="1" fill="#32cd32"/>
<rect x="444" y="233" width="1" height="17" fill="#ff0000"/>
<rect x="443" y="234" width="3" height="8" fill="#ff0000"/>
<rect x="444" y="235" width="1" height="6" fill="#ff4500"/>
<rect x="448" y="229" width="1" height="16" fill="#32cd32"/>
<rect x="447" y="234" width="3" height="11" fill="#32cd32"/>
<rect x="452" y="236" width="1" height="23" fill="#ff0000"/>
<rect x="451" y="237" width="3" height="8" fill="#ff0000"/>
<rect x="452" y="238" width="1" height="6" fill="#ff4500"/>
<rect x="456" y="229" width="1" height="30" fill="#32cd32"/>
<rect x="455" y="237" width="3" height="13" fill="#32cd32"/>
<rect x="460" y="232" width="1" height="20" fill="#ff0000"/>
<rect x="459" y="233" width="3" height="17" fill="#ff0000"/>
<rect x="460" y="234" width="1" height="15" fill="#ff4500"/>
<rect x="464" y="226" width="1" height="9" fill="#ff0000"/>
<rect x="463" y="230" width="3" height="4" fill="#ff0000"/>
<rect x="464" y="231" width="1" height="2" fill="#ff4500"/>
<rect x="468" y="180" width="1" height="50" fill="#ff0000"/>
<rect x="467" y="205" width="3" height="24" fill="#ff0000"/>
<rect x="468" y="206" width="1" height="22" fill="#ff4500"/>
<rect x="472" y="185" width="1" height="36" fill="#ff0000"/>
<rect x="471" y="188" width="3" height="20" fill="#ff0000"/>
<rect x="472" y="189" width="1" height="18" fill="#ff4500"/>
<rect x="476" y="186" width="1" height="27" fill="#32cd32"/>
<rect x="475" y="188" width="3" height="20" fill="#32cd32"/>
<rect x="480" y="207" width="1" height="13" fill="#32cd32"/>
<rect x="479" y="207" width="3" height="7" fill="#32cd32"/>
<rect x="484" y="211" width="1" height="12" fill="#ff0000"/>
<rect x="483" y="213" width="3" height="1" fill="#ff0000"/>
<rect x="488" y="203" width="1" height="18" fill="#ff0000"/>
<rect x="487" y="207" width="3" height="5" fill="#ff0000"/>
<rect x="488" y="208" width="1" height="3" fill="#ff4500"/>
<rect x="492" y="203" width="1" height="29" fill="#32cd32"/>
<rect x="491" y="206" width="3" height="20" fill="#32cd32"/>
<rect x="496" y="218" width="1" height="22" fill="#32cd32"/>
<rect x="495" y="225" width="3" height="14" fill="#32cd32"/>
<rect x="500" y="234" width="1" height="18" fill="#32cd32"/>
<rect x="499" y="236" width="3" height="9" fill="#32cd32"/>
<rect x="504" y="234" width="1" height="18" fill="#32cd32"/>
<rect x="503" y="244" width="3" height="8" fill="#32cd32"/>
<rect x="508" y="242" width="1" height="24" fill="#ff0000"/>
<rect x="507" y="244" width="3" height="3" fill="#ff0000"/>
<rect x="508" y="245" width="1" height="1" fill="#ff4500"/>
<rect x="512" y="226" width="1" height="22" fill="#ff0000"/>
<rect x="511" y="244" width="3" height="1" fill="#ff0000"/>
<rect x="516" y="242" width="1" height="34" fill="#32cd32"/>
<rect x="515" y="243" width="3" height="14" fill="#32cd32"/>
<rect x="520" y="245" width="1" height="22" fill="#ff0000"/>
<rect x="519" y="248" width="3" height="9" fill="#ff0000"/>
<rect x="520" y="249" width="1" height="7" fill="#ff4500"/>
<rect x="524" y="245" width="1" height="22" fill="#32cd32"/>
<rect x="523" y="249" width="3" height="10" fill="#32cd32"/>
<rect x="528" y="242" width="1" height="17" fill="#ff0000"/>
<rect x="527" y="252" width="3" height="7" fill="#ff0000"/>
<rect x="528" y="253" width="1" height="5" fill="#ff4500"/>
<rect x="532" y="215" width="1" height="45" fill="#ff0000"/>
<rect x="531" y="225" width="3" height="34" fill="#ff0000"/>
<rect x="532" y="226" width="1" height="32" fill="#ff4500"/>
<rect x="536" y="225" width="1" height="21" fill="#32cd32"/>
<rect x="535" y="225" width="3" height="12" fill="#32cd32"/>
<rect x="540" y="235" width="1" height="20" fill="#32cd32"/>
<rect x="539" y="235" width="3" height="15" fill="#32cd32"/>
<rect x="544" y="245" width="1" height="27" fill="#32cd32"/>
<rect x="543" y="249" width="3" height="21" fill="#32cd32"/>
<rect x="548" y="237" width="1" height="41" fill="#ff0000"/>
<rect x="547" y="237" width="3" height="33" fill="#ff0000"/>
<rect x="548" y="238" width="1" height="31" fill="#ff4500"/>
<rect x="552" y="235" width="1" height="20" fill="#32cd32"/>
<rect x="551" y="238" width="3" height="10" fill="#32cd32"/>
<rect x="556" y="226" width="1" height="22" fill="#ff0000"/>
<rect x="555" y="237" width="3" height="11" fill="#ff0000"/>
<rect x="556" y="238" width="1" height="9" fill="#ff4500"/>
<rect x="560" y="235" width="1" height="15" fill="#32cd32"/>
<rect x="559" y="237" width="3" height="8" fill="#32cd32"/>
<rect x="564" y="244" width="1" height="38" fill="#32cd32"/>
<rect x="563" y="244" width="3" height="32" fill="#32cd32"/>
<rect x="568" y="270" width="1" height="18" fill="#32cd32"/>
<rect x="567" y="276" width="3" height="3" fill="#32cd32"/>
<rect x="572" y="250" width="1" height="30" fill="#ff0000"/>
<rect x="571" y="250" width="3" height="29" fill="#ff0000"/>
<rect x="572" y="251" width="1" height="27" fill="#ff4500"/>
<rect x="576" y="243" width="1" height="12" fill="#ff0000"/>
<rect x="575" y="247" width="3" height="3" fill="#ff0000"/>
<rect x="576" y="248" width="1" height="1" fill="#ff4500"/>
<rect x="580" y="240" width="1" height="19" fill="#ff0000"/>
<rect x="579" y="241" width="3" height="8" fill="#ff0000"/>
<rect x="580" y="242" width="1" height="6" fill="#ff4500"/>
<rect x="584" y="231" width="1" height="26" fill="#32cd32"/>
<rect x="583" y="241" width="3" height="13" fill="#32cd32"/>
<rect x="588" y="219" width="1" height="41" fill="#ff0000"/>
<rect x="587" y="233" width="3" height="21" fill="#ff0000"/>
<rect x="588" y="234" width="1" height="19" fill="#ff4500"/>
<rect x="592" y="202" width="1" height="39" fill="#ff0000"/>
<rect x="591" y="224" width="3" height="11" fill="#ff0000"/>
<rect x="592" y="225" width="1" height="9" fill="#ff4500"/>
<rect x="596" y="204" width="1" height="40" fill="#32cd32"/>
<rect x="595" y="224" width="3" height="11" fill="#32cd32"/>
<rect x="600" y="219" width="1" height="18" fill="#ff0000"/>
<rect x="599" y="224" width="3" height="11" fill="#ff0000"/>
<rect x="600" y="225" width="1" height="9" fill="#ff4500"/>
<rect x="604" y="214" width="1" height="23" fill="#ff0000"/>
<rect x="603" y="215" width="3" height="15" fill="#ff0000"/>
<rect x="604" y="216" width="1" height="13" fill="#ff4500"/>
<rect x="608" y="205" width="1" height="26" fill="#32cd32"/>
<rect x="607" y="215" width="3" height="2" fill="#32cd32"/>
<rect x="612" y="215" width="1" height="22" fill="#32cd32"/>
<rect x="611" y="216" width="3" height="14" fill="#32cd32"/>
<rect x="616" y="212" width="1" height="25" fill="#ff0000"/>
<rect x="615" y="214" width="3" height="16" fill="#ff0000"/>
<rect x="616" y="215" width="1" height="14" fill="#ff4500"/>
<rect x="620" y="212" width="1" height="23" fill="#32cd32"/>
<rect x="619" y="214" width="3" height="20" fill="#32cd32"/>
<rect x="624" y="230" width="1" height="7" fill="#32cd32"/>
<rect x="623" y="232" width="3" height="4" fill="#32cd32"/>
<rect x="628" y="231" width="1" height="13" fill="#32cd32"/>
<rect x="627" y="238" width="3" height="2" fill="#32cd32"/>
<rect x="632" y="234" width="1" height="18" fill="#32cd32"/>
<rect x="631" y="238" width="3" height="12" fill="#32cd32"/>
<rect x="636" y="244" width="1" height="21" fill="#32cd32"/>
<rect x="635" y="249" width="3" height="12" fill="#32cd32"/>
<rect x="640" y="251" width="1" height="15" fill="#ff0000"/>
<rect x="639" y="259" width="3" height="2" fill="#ff0000"/>
<rect x="644" y="235" width="1" height="26" fill="#ff0000"/>
<rect x="643" y="253" width="3" height="7" fill="#ff0000"/>
<rect x="644" y="254" width="1" height="5" fill="#ff4500"/>
<rect x="648" y="251" width="1" height="11" fill="#32cd32"/>
<rect x="647" y="253" width="3" height="2" fill="#32cd32"/>
<rect x="652" y="257" width="1" height="16" fill="#32cd32"/>
<rect x="651" y="259" width="3" height="12" fill="#32cd32"/>
<rect x="656" y="255" width="1" height="27" fill="#ff0000"/>
<rect x="655" y="261" width="3" height="10" fill="#ff0000"/>
<rect x="656" y="262" width="1" height="8" fill="#ff4500"/>
<rect x="660" y="241" width="1" height="23" fill="#ff0000"/>
<rect x="659" y="247" width="3" height="15" fill="#ff0000"/>
<rect x="660" y="248" width="1" height="13" fill="#ff4500"/>
<rect x="664" y="243" width="1" height="23" fill="#32cd32"/>
<rect x="663" y="247" width="3" height="3" fill="#32cd32"/>
<rect x="668" y="248" width="1" height="36" fill="#32cd32"/>
<rect x="667" y="249" width="3" height="34" fill="#32cd32"/>
<rect x="672" y="276" width="1" height="11" fill="#ff0000"/>
<rect x="671" y="278" width="3" height="4" fill="#ff0000"/>
<rect x="672" y="279" width="1" height="2" fill="#ff4500"/>
<rect x="676" y="269" width="1" height="22" fill="#ff0000"/>
<rect x="675" y="280" width="3" height="2" fill="#ff0000"/>
<rect x="680" y="270" width="1" height="20" fill="#32cd32"/>
<rect x="679" y="280" width="3" height="6" fill="#32cd32"/>
<rect x="684" y="280" width="1" height="19" fill="#32cd32"/>
<rect x="683" y="284" width="3" height="11" fill="#32cd32"/>
<rect x="688" y="294" width="1" height="30" fill="#32cd32"/>
<rect x="687" y="294" width="3" height="16" fill="#32cd32"/>
<rect x="692" y="259" width="1" height="52" fill="#ff0000"/>
<rect x="691" y="268" width="3" height="42" fill="#ff0000"/>
<rect x="692" y="269" width="1" height="40" fill="#ff4500"/>
<rect x="696" y="246" width="1" height="22" fill="#ff0000"/>
<rect x="695" y="252" width="3" height="16" fill="#ff0000"/>
<rect x="696" y="253" width="1" height="14" fill="#ff4500"/>
<rect x="700" y="245" width="1" height="27" fill="#32cd32"/>
<rect x="699" y="245" width="3" height="23" fill="#32cd32"/>
<rect x="704" y="255" width="1" height="25" fill="#32cd32"/>
<rect x="703" y="268" width="3" height="11" fill="#32cd32"/>
<rect x="708" y="268" width="1" height="19" fill="#ff0000"/>
<rect x="707" y="276" width="3" height="3" fill="#ff0000"/>
<rect x="708" y="277" width="1" height="1" fill="#ff4500"/>
<rect x="712" y="262" width="1" height="22" fill="#32cd32"/>
<rect x="711" y="276" width="3" height="6" fill="#32cd32"/>
<rect x="716" y="244" width="1" height="48" fill="#ff0000"/>
<rect x="715" y="259" width="3" height="23" fill="#ff0000"/>
<rect x="716" y="260" width="1" height="21" fill="#ff4500"/>
<rect x="720" y="257" width="1" height="13" fill="#32cd32"/>
<rect x="719" y="258" width="3" height="9" fill="#32cd32"/>
<rect x="724" y="255" width="1" height="23" fill="#ff0000"/>
<rect x="723" y="266" width="3" height="4" fill="#ff0000"/>
<rect x="724" y="267" width="1" height="2" fill="#ff4500"/>
<rect x="728" y="259" width="1" height="28" fill="#32cd32"/>
<rect x="727" y="265" width="3" height="7" fill="#32cd32"/>
<rect x="732" y="260" width="1" height="21" fill="#32cd32"/>
<rect x="731" y="270" width="3" height="2" fill="#32cd32"/>
<rect x="736" y="265" width="1" height="29" fill="#32cd32"/>
<rect x="735" y="272" width="3" height="22" fill="#32cd32"/>
<rect x="740" y="290" width="1" height="26" fill="#32cd32"/>
<rect x="739" y="293" width="3" height="23" fill="#32cd32"/>
<rect x="744" y="312" width="1" height="13" fill="#32cd32"/>
<rect x="743" y="313" width="3" height="11" fill="#32cd32"/>
<rect x="748" y="310" width="1" height="22" fill="#ff0000"/>
<rect x="747" y="316" width="3" height="5" fill="#ff0000"/>
<rect x="748" y="317" width="1" height="3" fill="#ff4500"/>
<rect x="752" y="313" width="1" height="16" fill="#32cd32"/>
<rect x="751" y="316" width="3" height="13" fill="#32cd32"/>
<rect x="756" y="316" width="1" height="17" fill="#ff0000"/>
<rect x="755" y="320" width="3" height="9" fill="#ff0000"/>
<rect x="756" y="321" width="1" height="7" fill="#ff4500"/>
<rect x="760" y="315" width="1" height="39" fill="#32cd32"/>
<rect x="759" y="320" width="3" height="13" fill="#32cd32"/>
<rect x="764" y="299" width="1" height="38" fill="#ff0000"/>
<rect x="763" y="310" width="3" height="24" fill="#ff0000"/>
<rect x="764" y="311" width="1" height="22" fill="#ff4500"/>
<rect x="768" y="310" width="1" height="9" fill="#32cd32"/>
<rect x="767" y="310" width="3" height="6" fill="#32cd32"/>
<rect x="772" y="302" width="1" height="20" fill="#ff0000"/>
<rect x="771" y="305" width="3" height="2" fill="#ff0000"/>
<rect x="776" y="286" width="1" height="26" fill="#ff0000"/>
<rect x="775" y="299" width="3" height="6" fill="#ff0000"/>
<rect x="776" y="300" width="1" height="4" fill="#ff4500"/>
<rect x="780" y="282" width="1" height="24" fill="#ff0000"/>
<rect x="779" y="298" width="3" height="2" fill="#ff0000"/>
<rect x="784" y="276" width="1" height="26" fill="#ff0000"/>
<rect x="783" y="280" width="3" height="19" fill="#ff0000"/>
<rect x="784" y="281" width="1" height="17" fill="#ff4500"/>
<rect x="788" y="277" width="1" height="20" fill="#32cd32"/>
<rect x="787" y="279" width="3" height="13" fill="#32cd32"/>
<rect x="792" y="282" width="1" height="11" fill="#ff0000"/>
<rect x="791" y="286" width="3" height="6" fill="#ff0000"/>
<rect x="792" y="287" width="1" height="4" fill="#ff4500"/>
<rect x="796" y="276" width="1" height="14" fill="#ff0000"/>
<rect x="795" y="286" width="3" height="4" fill="#ff0000"/>
<rect x="796" y="287" width="1" height="2" fill="#ff4500"/>
<rect x="800" y="270" width="1" height="20" fill="#ff0000"/>
<rect x="799" y="276" width="3" height="10" fill="#ff0000"/>
<rect x="800" y="277" width="1" height="8" fill="#ff4500"/>
<rect x="804" y="272" width="1" height="30" fill="#32cd32"/>
<rect x="803" y="276" width="3" height="18" fill="#32cd32"/>
<rect x="808" y="283" width="1" height="15" fill="#32cd32"/>
<rect x="807" y="292" width="3" height="2" fill="#32cd32"/>
<rect x="812" y="293" width="1" height="9" fill="#32cd32"/>
<rect x="811" y="293" width="3" height="9" fill="#32cd32"/>
<rect x="816" y="292" width="1" height="6" fill="#ff0000"/>
<rect x="815" y="293" width="3" height="3" fill="#ff0000"/>
<rect x="816" y="294" width="1" height="1" fill="#ff4500"/>
<rect x="820" y="286" width="1" height="27" fill="#32cd32"/>
<rect x="819" y="293" width="3" height="18" fill="#32cd32"/>
<rect x="824" y="291" width="1" height="19" fill="#ff0000"/>
<rect x="823" y="301" width="3" height="9" fill="#ff0000"/>
<rect x="824" y="302" width="1" height="7" fill="#ff4500"/>
<rect x="828" y="274" width="1" height="29" fill="#ff0000"/>
<rect x="827" y="280" width="3" height="21" fill="#ff0000"/>
<rect x="828" y="281" width="1" height="19" fill="#ff4500"/>
<rect x="832" y="275" width="1" height="18" fill="#32cd32"/>
<rect x="831" y="280" width="3" height="12" fill="#32cd32"/>
<rect x="836" y="281" width="1" height="20" fill="#32cd32"/>
<rect x="835" y="291" width="3" height="10" fill="#32cd32"/>
<rect x="840" y="301" width="1" height="6" fill="#32cd32"/>
<rect x="839" y="301" width="3" height="4" fill="#32cd32"/>
<rect x="844" y="292" width="1" height="14" fill="#ff0000"/>
<rect x="843" y="297" width="3" height="7" fill="#ff0000"/>
<rect x="844" y="298" width="1" height="5" fill="#ff4500"/>
<rect x="848" y="276" width="1" height="27" fill="#32cd32"/>
<rect x="847" y="297" width="3" height="5" fill="#32cd32"/>
<rect x="852" y="291" width="1" height="19" fill="#32cd32"/>
<rect x="851" y="300" width="3" height="10" fill="#32cd32"/>
<rect x="856" y="297" width="1" height="24" fill="#ff0000"/>
<rect x="855" y="302" width="3" height="8" fill="#ff0000"/>
<rect x="856" y="303" width="1" height="6" fill="#ff4500"/>
<rect x="860" y="296" width="1" height="20" fill="#32cd32"/>
<rect x="859" y="302" width="3" height="12" fill="#32cd32"/>
<rect x="864" y="311" width="1" height="5" fill="#ff0000"/>
<rect x="863" y="312" width="3" height="3" fill="#ff0000"/>
<rect x="864" y="313" width="1" height="1" fill="#ff4500"/>
<rect x="868" y="303" width="1" height="20" fill="#ff0000"/>
<rect x="867" y="304" width="3" height="6" fill="#ff0000"/>
<rect x="868" y="305" width="1" height="4" fill="#ff4500"/>
<rect x="872" y="288" width="1" height="32" fill="#ff0000"/>
<rect x="871" y="291" width="3" height="13" fill="#ff0000"/>
<rect x="872" y="292" width="1" height="11" fill="#ff4500"/>
<rect x="876" y="268" width="1" height="58" fill="#32cd32"/>
<rect x="875" y="292" width="3" height="27" fill="#32cd32"/>
<rect x="880" y="303" width="1" height="19" fill="#ff0000"/>
<rect x="879" y="316" width="3" height="3" fill="#ff0000"/>
<rect x="880" y="317" width="1" height="1" fill="#ff4500"/>
<rect x="884" y="310" width="1" height="13" fill="#ff0000"/>
<rect x="883" y="315" width="3" height="2" fill="#ff0000"/>
<rect x="888" y="311" width="1" height="12" fill="#32cd32"/>
<rect x="887" y="315" width="3" height="7" fill="#32cd32"/>
<rect x="892" y="316" width="1" height="32" fill="#32cd32"/>
<rect x="891" y="318" width="3" height="26" fill="#32cd32"/>
<rect x="896" y="337" width="1" height="10" fill="#32cd32"/>
<rect x="895" y="343" width="3" height="2" fill="#32cd32"/>
<rect x="900" y="337" width="1" height="21" fill="#32cd32"/>
<rect x="899" y="343" width="3" height="14" fill="#32cd32"/>
<rect x="904" y="355" width="1" height="24" fill="#32cd32"/>
<rect x="903" y="356" width="3" height="19" fill="#32cd32"/>
<rect x="908" y="365" width="1" height="18" fill="#32cd32"/>
<rect x="907" y="373" width="3" height="2" fill="#32cd32"/>
<rect x="912" y="373" width="1" height="8" fill="#32cd32"/>
<rect x="911" y="374" width="3" height="4" fill="#32cd32"/>
<rect x="916" y="366" width="1" height="17" fill="#32cd32"/>
<rect x="915" y="376" width="3" height="4" fill="#32cd32"/>
<rect x="920" y="357" width="1" height="25" fill="#ff0000"/>
<rect x="919" y="366" width="3" height="14" fill="#ff0000"/>
<rect x="920" y="367" width="1" height="12" fill="#ff4500"/>
<rect x="924" y="366" width="1" height="11" fill="#32cd32"/>
<rect x="923" y="366" width="3" height="11" fill="#32cd32"/>
<rect x="24" y="100" width="1" height="12" fill="#32cd32"/>
<rect x="23" y="100" width="3" height="5" fill="#32cd32"/>
</g>
<rect x="3" y="204" width="6" height="6" fill="#ff0000"/><rect x="5" y="206" width="2" height="2" fill="#fff"/>
<rect x="1160" y="204" width="6" height="6" fill="#ff0000"/><rect x="1162" y="206" width="2" height="2" fill="#fff"/>
<rect x="3" y="265" width="6" height="6" fill="#ff0000"/><rect x="5" y="267" width="2" height="2" fill="#fff"/>
<rect x="1160" y="265" width="6" height="6" fill="#ff0000"/><rect x="1162" y="267" width="2" height="2" fill="#fff"/>
<rect x="3" y="310" width="6" height="6" fill="#00ff00"/><rect x="5" y="312" width="2" height="2" fill="#fff"/>
<rect x="1160" y="310" width="6" height="6" fill="#00ff00"/><rect x="1162" y="312" width="2" height="2" fill="#fff"/>
<rect x="3" y="357" width="6" height="6" fill="#0000ff"/><rect x="5" y="359" width="2" height="2" fill="#fff"/>
<rect x="1160" y="357" width="6" height="6" fill="#0000ff"/><rect x="1162" y="359" width="2" height="2" fill="#fff"/>
<rect x="3" y="25" width="1164" height="1" fill="#000"/><rect x="3" y="391" width="1164" height="1" fill="#000"/>
<rect x="3" y="25" width="1" height="367" fill="#000"/><rect x="1166" y="25" width="1" height="367" fill="#000"/>
<rect x="3" y="204" width="6" height="6" fill="#ff0000"/><rect x="5" y="206" width="2" height="2" fill="#fff"/>
<rect x="3" y="265" width="6" height="6" fill="#ff0000"/><rect x="5" y="267" width="2" height="2" fill="#fff"/>
<rect x="3" y="310" width="6" height="6" fill="#00ff00"/><rect x="5" y="312" width="2" height="2" fill="#fff"/>
<rect x="3" y="357" width="6" height="6" fill="#0000ff"/><rect x="5" y="359" width="2" height="2" fill="#fff"/>
<rect x="5" y="44" width="223" height="67" fill="#fff"/>
<rect x="7" y="45" width="52" height="24" fill="url(#gbtn)"/>
<rect x="174" y="45" width="52" height="24" fill="url(#gbtn)"/>
<rect x="7" y="69" width="109" height="40" fill="url(#gpan)"/>
<rect x="118" y="69" width="108" height="40" fill="url(#gpan)"/>
<rect x="7" y="45" width="52" height="1" fill="#3030d0"/><rect x="174" y="45" width="52" height="1" fill="#3030d0"/><rect x="7" y="45" width="1" height="64" fill="#2828c8"/><rect x="225" y="45" width="1" height="64" fill="#2020c0"/>
<rect x="7" y="69" width="109" height="1" fill="#1a1abc"/><rect x="118" y="69" width="108" height="1" fill="#1a1abc"/><rect x="115" y="69" width="1" height="40" fill="#1010b0" opacity=".7"/><rect x="118" y="69" width="1" height="40" fill="#1010b0" opacity=".7"/><rect x="58" y="45" width="1" height="24" fill="#1a1abc"/><rect x="174" y="45" width="1" height="24" fill="#1a1abc"/>
<rect x="11" y="68" width="44" height="1" fill="#2424c4"/><rect x="178" y="68" width="44" height="1" fill="#2424c4"/>
<rect x="11" y="69" width="44" height="1" fill="#8c8cf6"/><rect x="178" y="69" width="44" height="1" fill="#8c8cf6"/>
<rect x="61" y="45" width="111" height="22" fill="#fff" stroke="none"/>
<rect x="61" y="45" width="111" height="1" fill="#a6a6ae"/><rect x="61" y="66" width="111" height="1" fill="#a6a6ae"/><rect x="61" y="45" width="1" height="22" fill="#a6a6ae"/><rect x="171" y="45" width="1" height="22" fill="#a6a6ae"/>
<rect x="63" y="47" width="18" height="18" fill="url(#gsp)"/><rect x="82" y="46" width="1" height="20" fill="#acacb4"/>
<rect x="152" y="47" width="18" height="18" fill="url(#gsp)"/><rect x="150" y="46" width="1" height="20" fill="#acacb4"/>
</g>
<path d="M69 54h5l-2.5 3z" fill="#4a5cc0"/><path d="M158 57h5l-2.5-3z" fill="#4a5cc0"/>
<text x="123.7" y="60" font-size="12" fill="#222" textLength="23" lengthAdjust="spacingAndGlyphs">3.00</text>
<text x="19.5" y="61" font-size="12" fill="#fff" textLength="25.4" lengthAdjust="spacingAndGlyphs">SELL</text>
<text x="187.8" y="61" font-size="12" fill="#fff" textLength="23" lengthAdjust="spacingAndGlyphs">BUY</text>
<text x="27.3" y="99.6" font-size="12.4" font-weight="bold" fill="#fff" stroke="#fff" stroke-width=".25" textLength="24.2" lengthAdjust="spacingAndGlyphs">1.22</text>
<text x="137.6" y="99.6" font-size="12.4" font-weight="bold" fill="#fff" stroke="#fff" stroke-width=".25" textLength="24" lengthAdjust="spacingAndGlyphs">1.22</text>
<text x="54.3" y="100" font-size="33.4" fill="#fff" textLength="35.8" lengthAdjust="spacingAndGlyphs">84</text>
<text x="165.3" y="100" font-size="33.4" fill="#fff" textLength="35.8" lengthAdjust="spacingAndGlyphs">86</text>
<text x="93.9" y="84.1" font-size="12.3" font-weight="bold" fill="#fff" textLength="7.5" lengthAdjust="spacingAndGlyphs">9</text>
<text x="204.9" y="84.1" font-size="12.3" font-weight="bold" fill="#fff" textLength="7.5" lengthAdjust="spacingAndGlyphs">6</text>
<path d="M7 36h7l-3.5-4z" fill="#000"/>
<text x="19" y="36.7" font-size="9" fill="#000" class="t" textLength="66" lengthAdjust="spacingAndGlyphs">USDCAD,Daily</text>
<text x="92" y="36.7" font-size="9" fill="#000" class="t" textLength="140" lengthAdjust="spacingAndGlyphs">1.23186 1.23205 1.22838 1.22846</text>
<g shape-rendering="crispEdges">
<rect x="1167" y="58" width="2" height="1" fill="#000"/>
<rect x="1167" y="91" width="2" height="1" fill="#000"/>
<rect x="1167" y="124" width="2" height="1" fill="#000"/>
<rect x="1167" y="157" width="2" height="1" fill="#000"/>
<rect x="1167" y="190" width="2" height="1" fill="#000"/>
<rect x="1167" y="223" width="2" height="1" fill="#000"/>
<rect x="1167" y="256" width="2" height="1" fill="#000"/>
<rect x="1167" y="289" width="2" height="1" fill="#000"/>
<rect x="1167" y="322" width="2" height="1" fill="#000"/>
<rect x="1167" y="355" width="2" height="1" fill="#000"/>
<rect x="1167" y="388" width="2" height="1" fill="#000"/>
</g>
<text x="1172.5" y="61.4" font-size="9" fill="#000" class="t" textLength="32" lengthAdjust="spacingAndGlyphs">1.33700</text>
<text x="1172.5" y="94.4" font-size="9" fill="#000" class="t" textLength="32" lengthAdjust="spacingAndGlyphs">1.32590</text>
<text x="1172.5" y="127.4" font-size="9" fill="#000" class="t" textLength="32" lengthAdjust="spacingAndGlyphs">1.31450</text>
<text x="1172.5" y="160.4" font-size="9" fill="#000" class="t" textLength="32" lengthAdjust="spacingAndGlyphs">1.30340</text>
<text x="1172.5" y="193.4" font-size="9" fill="#000" class="t" textLength="32" lengthAdjust="spacingAndGlyphs">1.29200</text>
<text x="1172.5" y="226.4" font-size="9" fill="#000" class="t" textLength="32" lengthAdjust="spacingAndGlyphs">1.28060</text>
<text x="1172.5" y="259.4" font-size="9" fill="#000" class="t" textLength="32" lengthAdjust="spacingAndGlyphs">1.26950</text>
<text x="1172.5" y="292.4" font-size="9" fill="#000" class="t" textLength="32" lengthAdjust="spacingAndGlyphs">1.25810</text>
<text x="1172.5" y="325.4" font-size="9" fill="#000" class="t" textLength="32" lengthAdjust="spacingAndGlyphs">1.24700</text>
<text x="1172.5" y="358.4" font-size="9" fill="#000" class="t" textLength="32" lengthAdjust="spacingAndGlyphs">1.23560</text>
<text x="1172.5" y="391.4" font-size="9" fill="#000" class="t" textLength="32" lengthAdjust="spacingAndGlyphs">1.22450</text>
<rect x="1168" y="201" width="41" height="11" fill="#ff0000" shape-rendering="crispEdges"/>
<text x="1172.5" y="209.9" font-size="9" fill="#fff" textLength="32" lengthAdjust="spacingAndGlyphs">1.28621</text>
<rect x="1168" y="262" width="41" height="11" fill="#ff0000" shape-rendering="crispEdges"/>
<text x="1172.5" y="270.9" font-size="9" fill="#fff" textLength="32" lengthAdjust="spacingAndGlyphs">1.26545</text>
<rect x="1168" y="307" width="41" height="11" fill="#00ff00" shape-rendering="crispEdges"/>
<text x="1172.5" y="315.9" font-size="9" fill="#fff" textLength="32" lengthAdjust="spacingAndGlyphs">1.25014</text>
<rect x="1168" y="354" width="41" height="11" fill="#0000ff" shape-rendering="crispEdges"/>
<text x="1172.5" y="362.9" font-size="9" fill="#fff" textLength="32" lengthAdjust="spacingAndGlyphs">1.23415</text>
<rect x="1168" y="371" width="41" height="11" fill="#000000" shape-rendering="crispEdges"/>
<text x="1172.5" y="379.9" font-size="9" fill="#fff" textLength="32" lengthAdjust="spacingAndGlyphs">1.22846</text>
<g shape-rendering="crispEdges">
<g clip-path="url(#cd)">
<rect x="3" y="420" width="3" height="22" fill="#c0c0c0"/>
<rect x="7" y="420" width="3" height="22" fill="#c0c0c0"/>
<rect x="11" y="420" width="3" height="22" fill="#c0c0c0"/>
<rect x="15" y="420" width="3" height="23" fill="#c0c0c0"/>
<rect x="19" y="420" width="3" height="23" fill="#c0c0c0"/>
<rect x="23" y="420" width="3" height="26" fill="#c0c0c0"/>
<rect x="27" y="420" width="3" height="26" fill="#c0c0c0"/>
<rect x="31" y="420" width="3" height="26" fill="#c0c0c0"/>
<rect x="35" y="420" width="3" height="28" fill="#c0c0c0"/>
<rect x="39" y="420" width="3" height="30" fill="#c0c0c0"/>
<rect x="43" y="420" width="3" height="31" fill="#c0c0c0"/>
<rect x="47" y="420" width="3" height="31" fill="#c0c0c0"/>
<rect x="51" y="420" width="3" height="29" fill="#c0c0c0"/>
<rect x="55" y="420" width="3" height="30" fill="#c0c0c0"/>
<rect x="59" y="420" width="3" height="28" fill="#c0c0c0"/>
<rect x="63" y="420" width="3" height="26" fill="#c0c0c0"/>
<rect x="67" y="420" width="3" height="28" fill="#c0c0c0"/>
<rect x="71" y="420" width="3" height="28" fill="#c0c0c0"/>
<rect x="75" y="420" width="3" height="30" fill="#c0c0c0"/>
<rect x="79" y="420" width="3" height="29" fill="#c0c0c0"/>
<rect x="83" y="420" width="3" height="33" fill="#c0c0c0"/>
<rect x="87" y="420" width="3" height="33" fill="#c0c0c0"/>
<rect x="91" y="420" width="3" height="33" fill="#c0c0c0"/>
<rect x="95" y="420" width="3" height="30" fill="#c0c0c0"/>
<rect x="99" y="420" width="3" height="30" fill="#c0c0c0"/>
<rect x="103" y="420" width="3" height="29" fill="#c0c0c0"/>
<rect x="107" y="420" width="3" height="28" fill="#c0c0c0"/>
<rect x="111" y="420" width="3" height="23" fill="#c0c0c0"/>
<rect x="115" y="420" width="3" height="20" fill="#c0c0c0"/>
<rect x="119" y="420" width="3" height="18" fill="#c0c0c0"/>
<rect x="123" y="420" width="3" height="15" fill="#c0c0c0"/>
<rect x="127" y="420" width="3" height="12" fill="#c0c0c0"/>
<rect x="131" y="420" width="3" height="10" fill="#c0c0c0"/>
<rect x="135" y="420" width="3" height="8" fill="#c0c0c0"/>
<rect x="139" y="420" width="3" height="7" fill="#c0c0c0"/>
<rect x="143" y="420" width="3" height="6" fill="#c0c0c0"/>
<rect x="147" y="420" width="3" height="5" fill="#c0c0c0"/>
<rect x="151" y="420" width="3" height="4" fill="#c0c0c0"/>
<rect x="155" y="418" width="3" height="2" fill="#c0c0c0"/>
<rect x="159" y="415" width="3" height="5" fill="#c0c0c0"/>
<rect x="163" y="410" width="3" height="10" fill="#c0c0c0"/>
<rect x="167" y="406" width="3" height="14" fill="#c0c0c0"/>
<rect x="171" y="403" width="3" height="17" fill="#c0c0c0"/>
<rect x="175" y="400" width="3" height="20" fill="#c0c0c0"/>
<rect x="179" y="399" width="3" height="21" fill="#c0c0c0"/>
<rect x="183" y="397" width="3" height="23" fill="#c0c0c0"/>
<rect x="187" y="399" width="3" height="21" fill="#c0c0c0"/>
<rect x="191" y="402" width="3" height="18" fill="#c0c0c0"/>
<rect x="195" y="403" width="3" height="17" fill="#c0c0c0"/>
<rect x="199" y="405" width="3" height="15" fill="#c0c0c0"/>
<rect x="203" y="408" width="3" height="12" fill="#c0c0c0"/>
<rect x="207" y="410" width="3" height="10" fill="#c0c0c0"/>
<rect x="211" y="412" width="3" height="8" fill="#c0c0c0"/>
<rect x="215" y="414" width="3" height="6" fill="#c0c0c0"/>
<rect x="219" y="420" width="3" height="1" fill="#c0c0c0"/>
<rect x="223" y="420" width="3" height="5" fill="#c0c0c0"/>
<rect x="227" y="420" width="3" height="9" fill="#c0c0c0"/>
<rect x="231" y="420" width="3" height="11" fill="#c0c0c0"/>
<rect x="235" y="420" width="3" height="12" fill="#c0c0c0"/>
<rect x="239" y="420" width="3" height="10" fill="#c0c0c0"/>
<rect x="243" y="420" width="3" height="10" fill="#c0c0c0"/>
<rect x="247" y="420" width="3" height="10" fill="#c0c0c0"/>
<rect x="251" y="420" width="3" height="11" fill="#c0c0c0"/>
<rect x="255" y="420" width="3" height="12" fill="#c0c0c0"/>
<rect x="259" y="420" width="3" height="13" fill="#c0c0c0"/>
<rect x="263" y="420" width="3" height="14" fill="#c0c0c0"/>
<rect x="267" y="420" width="3" height="14" fill="#c0c0c0"/>
<rect x="271" y="420" width="3" height="12" fill="#c0c0c0"/>
<rect x="275" y="420" width="3" height="11" fill="#c0c0c0"/>
<rect x="279" y="420" width="3" height="9" fill="#c0c0c0"/>
<rect x="283" y="420" width="3" height="5" fill="#c0c0c0"/>
<rect x="287" y="418" width="3" height="2" fill="#c0c0c0"/>
<rect x="291" y="415" width="3" height="5" fill="#c0c0c0"/>
<rect x="295" y="412" width="3" height="8" fill="#c0c0c0"/>
<rect x="299" y="412" width="3" height="8" fill="#c0c0c0"/>
<rect x="303" y="417" width="3" height="3" fill="#c0c0c0"/>
<rect x="307" y="420" width="3" height="1" fill="#c0c0c0"/>
<rect x="311" y="420" width="3" height="8" fill="#c0c0c0"/>
<rect x="315" y="420" width="3" height="12" fill="#c0c0c0"/>
<rect x="319" y="420" width="3" height="16" fill="#c0c0c0"/>
<rect x="323" y="420" width="3" height="20" fill="#c0c0c0"/>
<rect x="327" y="420" width="3" height="22" fill="#c0c0c0"/>
<rect x="331" y="420" width="3" height="21" fill="#c0c0c0"/>
<rect x="335" y="420" width="3" height="19" fill="#c0c0c0"/>
<rect x="339" y="420" width="3" height="16" fill="#c0c0c0"/>
<rect x="343" y="420" width="3" height="14" fill="#c0c0c0"/>
<rect x="347" y="420" width="3" height="14" fill="#c0c0c0"/>
<rect x="351" y="420" width="3" height="14" fill="#c0c0c0"/>
<rect x="355" y="420" width="3" height="13" fill="#c0c0c0"/>
<rect x="359" y="420" width="3" height="13" fill="#c0c0c0"/>
<rect x="363" y="420" width="3" height="12" fill="#c0c0c0"/>
<rect x="367" y="420" width="3" height="12" fill="#c0c0c0"/>
<rect x="371" y="420" width="3" height="12" fill="#c0c0c0"/>
<rect x="375" y="420" width="3" height="12" fill="#c0c0c0"/>
<rect x="379" y="420" width="3" height="13" fill="#c0c0c0"/>
<rect x="383" y="420" width="3" height="15" fill="#c0c0c0"/>
<rect x="387" y="420" width="3" height="16" fill="#c0c0c0"/>
<rect x="391" y="420" width="3" height="17" fill="#c0c0c0"/>
<rect x="395" y="420" width="3" height="18" fill="#c0c0c0"/>
<rect x="399" y="420" width="3" height="20" fill="#c0c0c0"/>
<rect x="403" y="420" width="3" height="21" fill="#c0c0c0"/>
<rect x="407" y="420" width="3" height="24" fill="#c0c0c0"/>
<rect x="411" y="420" width="3" height="28" fill="#c0c0c0"/>
<rect x="415" y="420" width="3" height="31" fill="#c0c0c0"/>
<rect x="419" y="420" width="3" height="33" fill="#c0c0c0"/>
<rect x="423" y="420" width="3" height="34" fill="#c0c0c0"/>
<rect x="427" y="420" width="3" height="35" fill="#c0c0c0"/>
<rect x="431" y="420" width="3" height="38" fill="#c0c0c0"/>
<rect x="435" y="420" width="3" height="37" fill="#c0c0c0"/>
<rect x="439" y="420" width="3" height="36" fill="#c0c0c0"/>
<rect x="443" y="420" width="3" height="36" fill="#c0c0c0"/>
<rect x="447" y="420" width="3" height="35" fill="#c0c0c0"/>
<rect x="451" y="420" width="3" height="34" fill="#c0c0c0"/>
<rect x="455" y="420" width="3" height="34" fill="#c0c0c0"/>
<rect x="459" y="420" width="3" height="32" fill="#c0c0c0"/>
<rect x="463" y="420" width="3" height="31" fill="#c0c0c0"/>
<rect x="467" y="420" width="3" height="26" fill="#c0c0c0"/>
<rect x="471" y="420" width="3" height="20" fill="#c0c0c0"/>
<rect x="475" y="420" width="3" height="17" fill="#c0c0c0"/>
<rect x="479" y="420" width="3" height="15" fill="#c0c0c0"/>
<rect x="483" y="420" width="3" height="13" fill="#c0c0c0"/>
<rect x="487" y="420" width="3" height="12" fill="#c0c0c0"/>
<rect x="491" y="420" width="3" height="12" fill="#c0c0c0"/>
<rect x="495" y="420" width="3" height="14" fill="#c0c0c0"/>
<rect x="499" y="420" width="3" height="16" fill="#c0c0c0"/>
<rect x="503" y="420" width="3" height="16" fill="#c0c0c0"/>
<rect x="507" y="420" width="3" height="18" fill="#c0c0c0"/>
<rect x="511" y="420" width="3" height="18" fill="#c0c0c0"/>
<rect x="515" y="420" width="3" height="18" fill="#c0c0c0"/>
<rect x="519" y="420" width="3" height="18" fill="#c0c0c0"/>
<rect x="523" y="420" width="3" height="20" fill="#c0c0c0"/>
<rect x="527" y="420" width="3" height="20" fill="#c0c0c0"/>
<rect x="531" y="420" width="3" height="16" fill="#c0c0c0"/>
<rect x="535" y="420" width="3" height="15" fill="#c0c0c0"/>
<rect x="539" y="420" width="3" height="15" fill="#c0c0c0"/>
<rect x="543" y="420" width="3" height="15" fill="#c0c0c0"/>
<rect x="547" y="420" width="3" height="15" fill="#c0c0c0"/>
<rect x="551" y="420" width="3" height="14" fill="#c0c0c0"/>
<rect x="555" y="420" width="3" height="13" fill="#c0c0c0"/>
<rect x="559" y="420" width="3" height="12" fill="#c0c0c0"/>
<rect x="563" y="420" width="3" height="14" fill="#c0c0c0"/>
<rect x="567" y="420" width="3" height="16" fill="#c0c0c0"/>
<rect x="571" y="420" width="3" height="14" fill="#c0c0c0"/>
<rect x="575" y="420" width="3" height="13" fill="#c0c0c0"/>
<rect x="579" y="420" width="3" height="12" fill="#c0c0c0"/>
<rect x="583" y="420" width="3" height="11" fill="#c0c0c0"/>
<rect x="587" y="420" width="3" height="9" fill="#c0c0c0"/>
<rect x="591" y="420" width="3" height="5" fill="#c0c0c0"/>
<rect x="595" y="420" width="3" height="4" fill="#c0c0c0"/>
<rect x="599" y="420" width="3" height="2" fill="#c0c0c0"/>
<rect x="603" y="418" width="3" height="2" fill="#c0c0c0"/>
<rect x="607" y="416" width="3" height="4" fill="#c0c0c0"/>
<rect x="611" y="416" width="3" height="4" fill="#c0c0c0"/>
<rect x="615" y="414" width="3" height="6" fill="#c0c0c0"/>
<rect x="619" y="415" width="3" height="5" fill="#c0c0c0"/>
<rect x="623" y="416" width="3" height="4" fill="#c0c0c0"/>
<rect x="627" y="418" width="3" height="2" fill="#c0c0c0"/>
<rect x="631" y="420" width="3" height="1" fill="#c0c0c0"/>
<rect x="635" y="420" width="3" height="3" fill="#c0c0c0"/>
<rect x="639" y="420" width="3" height="5" fill="#c0c0c0"/>
<rect x="643" y="420" width="3" height="6" fill="#c0c0c0"/>
<rect x="647" y="420" width="3" height="7" fill="#c0c0c0"/>
<rect x="651" y="420" width="3" height="9" fill="#c0c0c0"/>
<rect x="655" y="420" width="3" height="10" fill="#c0c0c0"/>
<rect x="659" y="420" width="3" height="9" fill="#c0c0c0"/>
<rect x="663" y="420" width="3" height="8" fill="#c0c0c0"/>
<rect x="667" y="420" width="3" height="11" fill="#c0c0c0"/>
<rect x="671" y="420" width="3" height="13" fill="#c0c0c0"/>
<rect x="675" y="420" width="3" height="14" fill="#c0c0c0"/>
<rect x="679" y="420" width="3" height="16" fill="#c0c0c0"/>
<rect x="683" y="420" width="3" height="18" fill="#c0c0c0"/>
<rect x="687" y="420" width="3" height="21" fill="#c0c0c0"/>
<rect x="691" y="420" width="3" height="18" fill="#c0c0c0"/>
<rect x="695" y="420" width="3" height="14" fill="#c0c0c0"/>
<rect x="699" y="420" width="3" height="13" fill="#c0c0c0"/>
<rect x="703" y="420" width="3" height="13" fill="#c0c0c0"/>
<rect x="707" y="420" width="3" height="13" fill="#c0c0c0"/>
<rect x="711" y="420" width="3" height="13" fill="#c0c0c0"/>
<rect x="715" y="420" width="3" height="10" fill="#c0c0c0"/>
<rect x="719" y="420" width="3" height="9" fill="#c0c0c0"/>
<rect x="723" y="420" width="3" height="8" fill="#c0c0c0"/>
<rect x="727" y="420" width="3" height="8" fill="#c0c0c0"/>
<rect x="731" y="420" width="3" height="7" fill="#c0c0c0"/>
<rect x="735" y="420" width="3" height="9" fill="#c0c0c0"/>
<rect x="739" y="420" width="3" height="13" fill="#c0c0c0"/>
<rect x="743" y="420" width="3" height="17" fill="#c0c0c0"/>
<rect x="747" y="420" width="3" height="19" fill="#c0c0c0"/>
<rect x="751" y="420" width="3" height="22" fill="#c0c0c0"/>
<rect x="755" y="420" width="3" height="23" fill="#c0c0c0"/>
<rect x="759" y="420" width="3" height="25" fill="#c0c0c0"/>
<rect x="763" y="420" width="3" height="23" fill="#c0c0c0"/>
<rect x="767" y="420" width="3" height="23" fill="#c0c0c0"/>
<rect x="771" y="420" width="3" height="21" fill="#c0c0c0"/>
<rect x="775" y="420" width="3" height="18" fill="#c0c0c0"/>
<rect x="779" y="420" width="3" height="16" fill="#c0c0c0"/>
<rect x="783" y="420" width="3" height="12" fill="#c0c0c0"/>
<rect x="787" y="420" width="3" height="11" fill="#c0c0c0"/>
<rect x="791" y="420" width="3" height="8" fill="#c0c0c0"/>
<rect x="795" y="420" width="3" height="7" fill="#c0c0c0"/>
<rect x="799" y="420" width="3" height="4" fill="#c0c0c0"/>
<rect x="803" y="420" width="3" height="3" fill="#c0c0c0"/>
<rect x="807" y="420" width="3" height="4" fill="#c0c0c0"/>
<rect x="811" y="420" width="3" height="5" fill="#c0c0c0"/>
<rect x="815" y="420" width="3" height="4" fill="#c0c0c0"/>
<rect x="819" y="420" width="3" height="5" fill="#c0c0c0"/>
<rect x="823" y="420" width="3" height="5" fill="#c0c0c0"/>
<rect x="827" y="420" width="3" height="4" fill="#c0c0c0"/>
<rect x="831" y="420" width="3" height="3" fill="#c0c0c0"/>
<rect x="835" y="420" width="3" height="4" fill="#c0c0c0"/>
<rect x="839" y="420" width="3" height="5" fill="#c0c0c0"/>
<rect x="843" y="420" width="3" height="4" fill="#c0c0c0"/>
<rect x="847" y="420" width="3" height="4" fill="#c0c0c0"/>
<rect x="851" y="420" width="3" height="5" fill="#c0c0c0"/>
<rect x="855" y="420" width="3" height="6" fill="#c0c0c0"/>
<rect x="859" y="420" width="3" height="7" fill="#c0c0c0"/>
<rect x="863" y="420" width="3" height="8" fill="#c0c0c0"/>
<rect x="867" y="420" width="3" height="7" fill="#c0c0c0"/>
<rect x="871" y="420" width="3" height="6" fill="#c0c0c0"/>
<rect x="875" y="420" width="3" height="6" fill="#c0c0c0"/>
<rect x="879" y="420" width="3" height="8" fill="#c0c0c0"/>
<rect x="883" y="420" width="3" height="8" fill="#c0c0c0"/>
<rect x="887" y="420" width="3" height="9" fill="#c0c0c0"/>
<rect x="891" y="420" width="3" height="12" fill="#c0c0c0"/>
<rect x="895" y="420" width="3" height="15" fill="#c0c0c0"/>
<rect x="899" y="420" width="3" height="18" fill="#c0c0c0"/>
<rect x="903" y="420" width="3" height="22" fill="#c0c0c0"/>
<rect x="907" y="420" width="3" height="25" fill="#c0c0c0"/>
<rect x="911" y="420" width="3" height="27" fill="#c0c0c0"/>
<rect x="915" y="420" width="3" height="29" fill="#c0c0c0"/>
<rect x="919" y="420" width="3" height="29" fill="#c0c0c0"/>
<rect x="923" y="420" width="3" height="29" fill="#c0c0c0"/>
<path d="M195 402.5h12M191 403.5h4M207 403.5h4M189 404.5h2M211 404.5h4M187 405.5h2M215 405.5h2M185 406.5h2M217 406.5h2M184 407.5h1M219 407.5h1M182 408.5h2M220 408.5h1M181 409.5h1M221 409.5h2M179 410.5h2M223 410.5h1M178 411.5h1M224 411.5h2M177 412.5h1M226 412.5h1M175 413.5h2M227 413.5h1M174 414.5h1M228 414.5h2M173 415.5h1M230 415.5h1M171 416.5h2M231 416.5h1M170 417.5h1M232 417.5h1M624 417.5h16M168 418.5h2M233 418.5h2M622 418.5h2M640 418.5h4M167 419.5h1M235 419.5h1M307 419.5h8M620 419.5h2M644 419.5h4M165 420.5h2M236 420.5h1M305 420.5h2M315 420.5h2M618 420.5h2M648 420.5h2M164 421.5h1M237 421.5h2M303 421.5h2M317 421.5h3M616 421.5h2M650 421.5h3M163 422.5h1M239 422.5h2M301 422.5h2M320 422.5h2M614 422.5h2M653 422.5h2M161 423.5h2M241 423.5h2M299 423.5h2M322 423.5h1M612 423.5h2M655 423.5h3M827 423.5h21M159 424.5h2M243 424.5h2M297 424.5h2M323 424.5h2M610 424.5h2M658 424.5h3M821 424.5h6M848 424.5h20M157 425.5h2M245 425.5h2M295 425.5h2M325 425.5h1M608 425.5h2M661 425.5h3M817 425.5h4M868 425.5h17M155 426.5h2M247 426.5h2M292 426.5h3M326 426.5h1M606 426.5h2M664 426.5h3M813 426.5h4M885 426.5h6M153 427.5h2M249 427.5h3M290 427.5h2M327 427.5h2M603 427.5h3M667 427.5h3M810 427.5h3M891 427.5h4M151 428.5h2M252 428.5h4M286 428.5h4M329 428.5h1M600 428.5h3M670 428.5h3M808 428.5h2M895 428.5h3M149 429.5h2M256 429.5h5M282 429.5h4M330 429.5h2M596 429.5h4M673 429.5h4M733 429.5h9M805 429.5h3M898 429.5h2M147 430.5h2M261 430.5h21M332 430.5h2M592 430.5h4M677 430.5h4M727 430.5h6M742 430.5h7M803 430.5h2M900 430.5h2M145 431.5h2M334 431.5h2M588 431.5h4M681 431.5h4M723 431.5h4M749 431.5h3M801 431.5h2M902 431.5h2M144 432.5h1M336 432.5h2M370 432.5h15M584 432.5h4M685 432.5h4M720 432.5h3M752 432.5h2M799 432.5h2M904 432.5h3M142 433.5h2M338 433.5h2M365 433.5h5M385 433.5h4M579 433.5h5M689 433.5h4M717 433.5h3M754 433.5h3M797 433.5h2M907 433.5h2M141 434.5h1M340 434.5h4M359 434.5h6M389 434.5h8M501 434.5h17M558 434.5h21M693 434.5h5M714 434.5h3M757 434.5h2M796 434.5h1M909 434.5h2M140 435.5h1M344 435.5h15M397 435.5h7M499 435.5h2M518 435.5h6M554 435.5h4M698 435.5h16M759 435.5h2M794 435.5h2M911 435.5h2M139 436.5h1M404 436.5h2M496 436.5h3M524 436.5h3M551 436.5h3M761 436.5h2M792 436.5h2M913 436.5h2M137 437.5h2M406 437.5h3M494 437.5h2M527 437.5h24M763 437.5h2M790 437.5h2M915 437.5h2M135 438.5h2M409 438.5h2M492 438.5h2M765 438.5h3M786 438.5h4M917 438.5h2M133 439.5h2M411 439.5h3M490 439.5h2M768 439.5h3M783 439.5h3M919 439.5h1M131 440.5h2M414 440.5h2M489 440.5h1M771 440.5h12M920 440.5h2M129 441.5h2M416 441.5h2M487 441.5h2M922 441.5h2M15 442.5h3M127 442.5h2M418 442.5h2M486 442.5h1M4 443.5h11M18 443.5h10M124 443.5h3M420 443.5h2M484 443.5h2M28 444.5h12M122 444.5h2M422 444.5h2M482 444.5h2M40 445.5h2M120 445.5h2M424 445.5h2M481 445.5h1M42 446.5h3M118 446.5h2M426 446.5h2M479 446.5h2M45 447.5h4M116 447.5h2M428 447.5h2M478 447.5h1M49 448.5h39M114 448.5h2M430 448.5h2M476 448.5h2M88 449.5h11M111 449.5h3M432 449.5h3M474 449.5h2M99 450.5h12M435 450.5h2M473 450.5h1M437 451.5h3M471 451.5h2M440 452.5h2M469 452.5h2M442 453.5h4M466 453.5h3M446 454.5h4M462 454.5h4M450 455.5h12" fill="none" stroke="#ff0000" stroke-width="1"/>
</g>
<rect x="3" y="393" width="1164" height="1" fill="#000"/><rect x="3" y="460" width="1164" height="1" fill="#000"/>
<rect x="3" y="393" width="1" height="68" fill="#000"/><rect x="1166" y="393" width="1" height="68" fill="#000"/>
<rect x="1167" y="395" width="2" height="1" fill="#000"/>
<rect x="1167" y="420" width="2" height="1" fill="#000"/>
<rect x="1167" y="459" width="2" height="1" fill="#000"/>
<path d="M5 484.5H1166" stroke="#c0c0c0" stroke-width="1" stroke-dasharray="3 3" fill="none"/>
<path d="M5 510.5H1166" stroke="#c0c0c0" stroke-width="1" stroke-dasharray="3 3" fill="none"/>
<g clip-path="url(#cr)">
<path d="M171 484.5h3M169 485.5h2M174 485.5h3M183 485.5h2M162 486.5h7M177 486.5h2M181 486.5h2M185 486.5h1M160 487.5h2M179 487.5h2M185 487.5h1M158 488.5h2M186 488.5h1M287 488.5h2M156 489.5h2M186 489.5h1M285 489.5h2M289 489.5h2M155 490.5h1M187 490.5h1M284 490.5h1M291 490.5h2M155 491.5h1M187 491.5h1M284 491.5h1M293 491.5h3M154 492.5h1M188 492.5h1M283 492.5h1M296 492.5h3M603 492.5h3M154 493.5h1M188 493.5h1M283 493.5h1M299 493.5h2M472 493.5h1M601 493.5h2M606 493.5h2M616 493.5h1M800 493.5h1M153 494.5h1M189 494.5h1M195 494.5h3M282 494.5h1M300 494.5h1M471 494.5h1M473 494.5h1M589 494.5h5M599 494.5h2M608 494.5h2M614 494.5h2M617 494.5h1M784 494.5h1M798 494.5h2M801 494.5h1M828 494.5h1M136 495.5h1M144 495.5h1M153 495.5h1M190 495.5h2M193 495.5h2M198 495.5h2M276 495.5h1M282 495.5h1M301 495.5h1M470 495.5h1M474 495.5h1M588 495.5h1M594 495.5h2M597 495.5h2M610 495.5h2M613 495.5h1M618 495.5h1M696 495.5h1M783 495.5h1M785 495.5h1M797 495.5h1M802 495.5h1M827 495.5h1M829 495.5h1M872 495.5h1M112 496.5h1M123 496.5h9M134 496.5h2M137 496.5h1M142 496.5h2M145 496.5h2M150 496.5h3M192 496.5h1M200 496.5h2M209 496.5h3M239 496.5h1M275 496.5h1M277 496.5h1M282 496.5h1M301 496.5h1M340 496.5h2M469 496.5h1M474 496.5h1M532 496.5h1M587 496.5h1M596 496.5h1M612 496.5h1M619 496.5h1M694 496.5h2M697 496.5h2M716 496.5h2M782 496.5h1M786 496.5h2M790 496.5h7M802 496.5h1M827 496.5h1M830 496.5h2M870 496.5h2M873 496.5h1M112 497.5h3M121 497.5h2M132 497.5h2M138 497.5h2M141 497.5h1M147 497.5h3M202 497.5h2M206 497.5h3M212 497.5h2M239 497.5h3M275 497.5h1M278 497.5h1M281 497.5h1M302 497.5h1M339 497.5h1M342 497.5h2M468 497.5h1M475 497.5h1M487 497.5h2M532 497.5h2M579 497.5h3M586 497.5h1M620 497.5h8M693 497.5h1M699 497.5h2M715 497.5h1M718 497.5h8M781 497.5h1M788 497.5h2M803 497.5h1M826 497.5h1M832 497.5h1M869 497.5h1M873 497.5h1M111 498.5h1M115 498.5h6M140 498.5h1M204 498.5h2M214 498.5h1M238 498.5h1M242 498.5h2M274 498.5h1M278 498.5h1M281 498.5h1M302 498.5h1M338 498.5h1M344 498.5h2M467 498.5h1M476 498.5h2M485 498.5h2M489 498.5h1M531 498.5h1M534 498.5h1M548 498.5h1M555 498.5h5M575 498.5h4M582 498.5h2M585 498.5h1M628 498.5h2M660 498.5h5M692 498.5h1M701 498.5h1M714 498.5h1M726 498.5h2M777 498.5h4M804 498.5h5M815 498.5h2M825 498.5h1M833 498.5h2M843 498.5h3M868 498.5h1M874 498.5h1M111 499.5h1M214 499.5h1M238 499.5h1M244 499.5h3M274 499.5h1M279 499.5h2M302 499.5h1M335 499.5h3M346 499.5h1M351 499.5h2M367 499.5h6M467 499.5h1M478 499.5h7M490 499.5h1M531 499.5h1M535 499.5h1M547 499.5h1M549 499.5h2M553 499.5h2M560 499.5h1M572 499.5h3M584 499.5h1M630 499.5h2M658 499.5h2M665 499.5h1M692 499.5h1M702 499.5h2M714 499.5h1M728 499.5h5M773 499.5h4M809 499.5h2M813 499.5h2M817 499.5h1M824 499.5h1M835 499.5h3M841 499.5h2M846 499.5h3M855 499.5h2M866 499.5h2M874 499.5h1M4 500.5h6M110 500.5h1M215 500.5h1M238 500.5h1M247 500.5h2M273 500.5h1M280 500.5h1M303 500.5h1M333 500.5h2M347 500.5h1M349 500.5h2M353 500.5h2M358 500.5h4M365 500.5h2M373 500.5h2M466 500.5h1M491 500.5h1M530 500.5h1M536 500.5h2M547 500.5h1M551 500.5h2M561 500.5h1M571 500.5h1M632 500.5h2M657 500.5h1M665 500.5h1M691 500.5h1M704 500.5h7M713 500.5h1M733 500.5h1M772 500.5h1M811 500.5h2M818 500.5h1M822 500.5h2M838 500.5h3M849 500.5h2M853 500.5h2M857 500.5h2M865 500.5h1M875 500.5h1M10 501.5h2M110 501.5h1M216 501.5h1M237 501.5h1M249 501.5h3M267 501.5h3M273 501.5h1M303 501.5h1M332 501.5h1M348 501.5h1M355 501.5h3M362 501.5h3M375 501.5h2M465 501.5h1M492 501.5h1M530 501.5h1M538 501.5h1M546 501.5h1M562 501.5h1M571 501.5h1M634 501.5h2M642 501.5h7M656 501.5h1M666 501.5h1M691 501.5h1M711 501.5h2M734 501.5h1M770 501.5h2M819 501.5h1M821 501.5h1M851 501.5h2M859 501.5h2M863 501.5h2M875 501.5h1M878 501.5h9M12 502.5h2M96 502.5h1M109 502.5h1M217 502.5h1M237 502.5h1M252 502.5h2M265 502.5h2M270 502.5h3M304 502.5h1M306 502.5h2M331 502.5h1M377 502.5h1M465 502.5h1M493 502.5h1M529 502.5h1M539 502.5h2M546 502.5h1M562 502.5h1M570 502.5h1M636 502.5h6M649 502.5h1M655 502.5h1M666 502.5h1M691 502.5h1M735 502.5h1M764 502.5h2M769 502.5h1M820 502.5h1M861 502.5h2M876 502.5h2M887 502.5h2M14 503.5h2M96 503.5h2M109 503.5h1M217 503.5h1M236 503.5h1M254 503.5h2M261 503.5h4M304 503.5h2M308 503.5h1M330 503.5h1M378 503.5h2M383 503.5h2M462 503.5h3M494 503.5h2M529 503.5h1M541 503.5h1M545 503.5h1M563 503.5h1M569 503.5h1M650 503.5h1M654 503.5h1M667 503.5h1M690 503.5h1M736 503.5h1M763 503.5h1M766 503.5h3M889 503.5h1M16 504.5h2M60 504.5h3M95 504.5h1M98 504.5h2M108 504.5h1M218 504.5h1M232 504.5h5M256 504.5h5M309 504.5h2M328 504.5h2M380 504.5h3M385 504.5h2M460 504.5h2M496 504.5h5M506 504.5h8M519 504.5h2M527 504.5h2M542 504.5h2M545 504.5h1M564 504.5h2M569 504.5h1M651 504.5h1M653 504.5h1M667 504.5h1M670 504.5h10M690 504.5h1M737 504.5h1M763 504.5h1M890 504.5h1M18 505.5h2M29 505.5h5M58 505.5h2M63 505.5h2M95 505.5h1M100 505.5h1M107 505.5h1M219 505.5h1M230 505.5h2M311 505.5h1M327 505.5h1M387 505.5h8M460 505.5h1M501 505.5h2M504 505.5h2M514 505.5h2M517 505.5h2M521 505.5h2M525 505.5h2M544 505.5h1M566 505.5h3M652 505.5h1M668 505.5h2M680 505.5h2M689 505.5h1M738 505.5h1M762 505.5h1M891 505.5h1M20 506.5h2M27 506.5h2M34 506.5h2M51 506.5h2M56 506.5h2M65 506.5h2M94 506.5h1M101 506.5h1M106 506.5h1M219 506.5h1M222 506.5h4M228 506.5h2M312 506.5h10M326 506.5h1M395 506.5h9M459 506.5h1M503 506.5h1M516 506.5h1M523 506.5h2M682 506.5h2M689 506.5h1M739 506.5h1M747 506.5h2M755 506.5h2M761 506.5h1M891 506.5h1M22 507.5h2M25 507.5h2M36 507.5h2M49 507.5h2M53 507.5h3M67 507.5h1M94 507.5h1M102 507.5h2M105 507.5h1M220 507.5h2M226 507.5h2M322 507.5h2M325 507.5h1M404 507.5h1M459 507.5h1M684 507.5h2M689 507.5h1M740 507.5h2M745 507.5h2M749 507.5h2M753 507.5h2M757 507.5h2M761 507.5h1M892 507.5h6M920 507.5h2M24 508.5h1M38 508.5h2M47 508.5h2M68 508.5h2M93 508.5h1M104 508.5h1M324 508.5h1M405 508.5h2M436 508.5h9M452 508.5h2M458 508.5h1M686 508.5h3M742 508.5h3M751 508.5h2M759 508.5h2M898 508.5h2M919 508.5h1M922 508.5h2M40 509.5h2M44 509.5h3M70 509.5h2M93 509.5h1M407 509.5h1M435 509.5h1M445 509.5h2M450 509.5h2M454 509.5h2M458 509.5h1M688 509.5h1M900 509.5h1M919 509.5h1M42 510.5h2M72 510.5h7M91 510.5h2M408 510.5h1M427 510.5h2M435 510.5h1M447 510.5h3M456 510.5h2M901 510.5h2M918 510.5h1M79 511.5h2M88 511.5h3M409 511.5h2M420 511.5h2M425 511.5h2M429 511.5h1M434 511.5h1M903 511.5h2M917 511.5h1M81 512.5h2M86 512.5h2M411 512.5h1M418 512.5h2M422 512.5h3M430 512.5h1M433 512.5h1M905 512.5h10M917 512.5h1M83 513.5h3M412 513.5h2M417 513.5h1M431 513.5h1M433 513.5h1M915 513.5h2M414 514.5h3M432 514.5h1" fill="none" stroke="#1e90ff" stroke-width="1"/>
</g>
<rect x="3" y="462" width="1164" height="1" fill="#000"/><rect x="3" y="531" width="1164" height="1" fill="#000"/>
<rect x="3" y="462" width="1" height="70" fill="#000"/><rect x="1166" y="462" width="1" height="70" fill="#000"/>
<rect x="1167" y="464" width="2" height="1" fill="#000"/>
<rect x="1167" y="530" width="2" height="1" fill="#000"/>
<rect x="4" y="532" width="1" height="3" fill="#000"/>
<rect x="68" y="532" width="1" height="3" fill="#000"/>
<rect x="132" y="532" width="1" height="3" fill="#000"/>
<rect x="196" y="532" width="1" height="3" fill="#000"/>
<rect x="260" y="532" width="1" height="3" fill="#000"/>
<rect x="324" y="532" width="1" height="3" fill="#000"/>
<rect x="388" y="532" width="1" height="3" fill="#000"/>
<rect x="452" y="532" width="1" height="3" fill="#000"/>
<rect x="516" y="532" width="1" height="3" fill="#000"/>
<rect x="580" y="532" width="1" height="3" fill="#000"/>
<rect x="644" y="532" width="1" height="3" fill="#000"/>
<rect x="708" y="532" width="1" height="3" fill="#000"/>
<rect x="772" y="532" width="1" height="3" fill="#000"/>
<rect x="836" y="532" width="1" height="3" fill="#000"/>
<rect x="900" y="532" width="1" height="3" fill="#000"/>
</g>
<text x="8.6" y="406" font-size="9" fill="#000" class="t" textLength="153" lengthAdjust="spacingAndGlyphs">MACD(12,26,9) -0.007046 -0.005423</text>
<text x="8.3" y="475" font-size="9" fill="#000" class="t" textLength="67.7" lengthAdjust="spacingAndGlyphs">RSI(14) 31.6167</text>
<text x="1170.6" y="404" font-size="9" fill="#000" class="t">0.006444</text>
<text x="1170.6" y="423.6" font-size="9" fill="#000" class="t">0.00</text>
<text x="1170.6" y="457.3" font-size="9" fill="#000" class="t">-0.009871</text>
<text x="1170.3" y="472.6" font-size="9" fill="#000" class="t">100</text>
<text x="1169.6" y="487.4" font-size="9" fill="#000" class="t">70</text>
<text x="1169.6" y="513.6" font-size="9" fill="#000" class="t">30</text>
<text x="1170.3" y="527.4" font-size="9" fill="#000" class="t">0</text>
<text x="3.1" y="544.2" font-size="9.1" fill="#000" class="t" textLength="47.5" lengthAdjust="spacingAndGlyphs">7 Aug 2020</text>
<text x="67.1" y="544.2" font-size="9.1" fill="#000" class="t" textLength="52.6" lengthAdjust="spacingAndGlyphs">26 Aug 2020</text>
<text x="131.1" y="544.2" font-size="9.1" fill="#000" class="t" textLength="51.3" lengthAdjust="spacingAndGlyphs">14 Sep 2020</text>
<text x="195.1" y="544.2" font-size="9.1" fill="#000" class="t" textLength="45.3" lengthAdjust="spacingAndGlyphs">2 Oct 2020</text>
<text x="259.1" y="544.2" font-size="9.1" fill="#000" class="t" textLength="50.3" lengthAdjust="spacingAndGlyphs">21 Oct 2020</text>
<text x="323.1" y="544.2" font-size="9.1" fill="#000" class="t" textLength="48.3" lengthAdjust="spacingAndGlyphs">9 Nov 2020</text>
<text x="387.1" y="544.2" font-size="9.1" fill="#000" class="t" textLength="54" lengthAdjust="spacingAndGlyphs">27 Nov 2020</text>
<text x="451.1" y="544.2" font-size="9.1" fill="#000" class="t" textLength="51.3" lengthAdjust="spacingAndGlyphs">16 Dec 2020</text>
<text x="515.1" y="544.2" font-size="9.1" fill="#000" class="t" textLength="44.2" lengthAdjust="spacingAndGlyphs">6 Jan 2021</text>
<text x="579.1" y="544.2" font-size="9.1" fill="#000" class="t" textLength="48.6" lengthAdjust="spacingAndGlyphs">25 Jan 2021</text>
<text x="643.1" y="544.2" font-size="9.1" fill="#000" class="t" textLength="50.8" lengthAdjust="spacingAndGlyphs">12 Feb 2021</text>
<text x="707.1" y="544.2" font-size="9.1" fill="#000" class="t" textLength="46" lengthAdjust="spacingAndGlyphs">3 Mar 2021</text>
<text x="771.1" y="544.2" font-size="9.1" fill="#000" class="t" textLength="51.6" lengthAdjust="spacingAndGlyphs">22 Mar 2021</text>
<text x="835.1" y="544.2" font-size="9.1" fill="#000" class="t" textLength="45.2" lengthAdjust="spacingAndGlyphs">9 Apr 2021</text>
<text x="899.1" y="544.2" font-size="9.1" fill="#000" class="t" textLength="49.6" lengthAdjust="spacingAndGlyphs">28 Apr 2021</text>
<g shape-rendering="crispEdges">
<rect x="0" y="552" width="1209" height="1" fill="#f4f4f4"/><rect x="0" y="553" width="1209" height="1" fill="#e3e3e3"/>
<rect x="0" y="554" width="1209" height="23" fill="#f0f0f0"/>
<rect x="0" y="574" width="1209" height="1" fill="#fff"/>
<rect x="0" y="554" width="313" height="1" fill="#000"/><rect x="417" y="554" width="792" height="1" fill="#000"/>
<rect x="0" y="554" width="1" height="19" fill="#555"/>
<rect x="314" y="554" width="102" height="18" fill="#fff"/>
<rect x="312" y="555" width="1" height="18" fill="#fff"/><rect x="315" y="573" width="103" height="1" fill="#d0d0d0"/>
<rect x="313" y="554" width="1" height="19" fill="#000"/><rect x="416" y="554" width="1" height="19" fill="#000"/><rect x="313" y="572" width="104" height="1" fill="#000"/>
<rect x="109" y="557" width="1" height="14" fill="#444"/>
<rect x="213" y="557" width="1" height="14" fill="#444"/>
<rect x="521" y="557" width="1" height="14" fill="#444"/>
<rect x="597" y="557" width="1" height="14" fill="#444"/>
</g>
<text x="17" y="569" font-size="13" fill="#555" textLength="80" lengthAdjust="spacingAndGlyphs">EURUSD,Daily</text>
<text x="119.5" y="569" font-size="13" fill="#555" textLength="82" lengthAdjust="spacingAndGlyphs">AUDUSD,Daily</text>
<text x="223" y="569" font-size="13" fill="#555" textLength="80" lengthAdjust="spacingAndGlyphs">USDCHF,Daily</text>
<text x="324.3" y="569" font-size="13" fill="#000" textLength="80.5" lengthAdjust="spacingAndGlyphs">USDCAD,Daily</text>
<text x="427" y="569" font-size="13" fill="#555" textLength="83" lengthAdjust="spacingAndGlyphs">USDCNH,Daily</text>
<text x="533.5" y="569" font-size="13" fill="#555" textLength="51" lengthAdjust="spacingAndGlyphs">UKOil,H1</text>
<path d="M1181.5 563l3.7-3.2v6.4z" fill="#909090"/><path d="M1204.6 563l-3.7-3.2v6.4z" fill="#909090"/>
</svg></body></html>
